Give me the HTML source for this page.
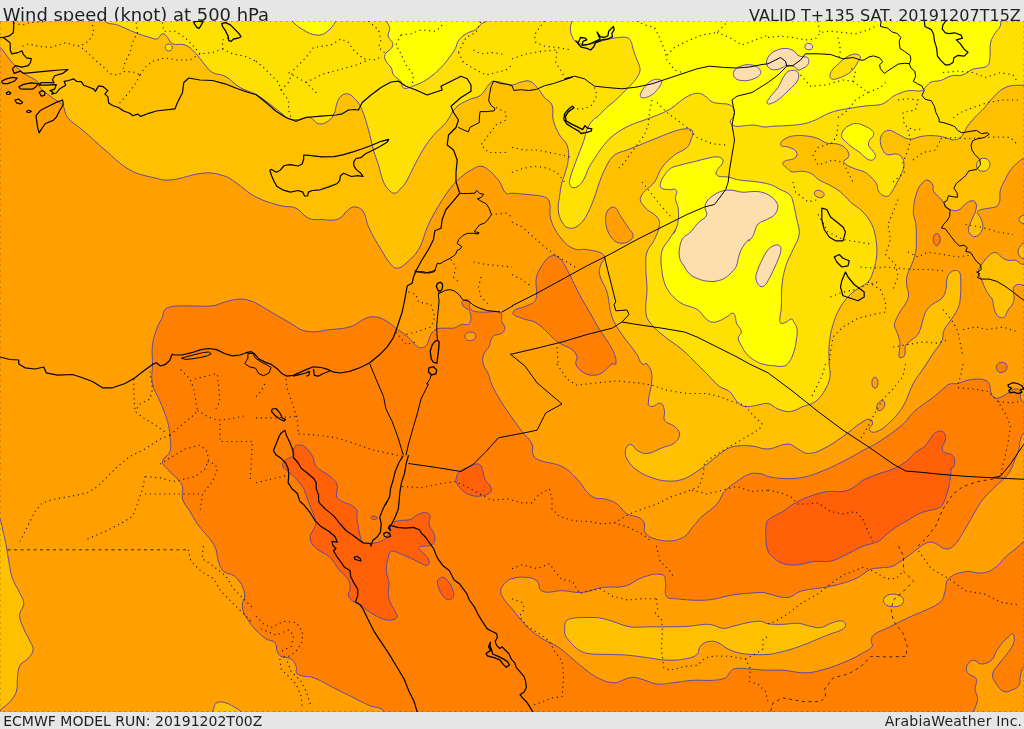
<!DOCTYPE html>
<html lang="en"><head><meta charset="utf-8"><title>Wind speed (knot) at 500 hPa</title>
<style>
html,body{margin:0;padding:0;background:#e6e6e6;}
body{width:1024px;height:729px;position:relative;overflow:hidden;font-family:"DejaVu Sans","Liberation Sans",sans-serif;color:#1f1f1f;}
.t{position:absolute;white-space:nowrap;line-height:1;}
#tl{left:2.7px;top:6.3px;font-size:17.97px;}
#tr{right:3.2px;top:7.6px;font-size:16.03px;}
#bl{left:3.2px;top:713.5px;font-size:14.03px;}
#br{right:1.8px;top:713.5px;font-size:14.03px;letter-spacing:0.19px;}
#map{position:absolute;left:0;top:21px;width:1024px;height:691px;overflow:hidden;background:#ffa000;}
svg{display:block;}
</style></head><body>
<div class="t" id="tl">Wind speed (knot) at 500 hPa</div>
<div class="t" id="tr">VALID T+135 SAT. 20191207T15Z</div>
<div id="map"><svg width="1024" height="691" viewBox="0 21 1024 691">
<rect x="0" y="21" width="1024" height="691" fill="#ffa000"/>
<path d="M-6.0,10.0C-20.8,10.5 -8.0,34.5 -6.0,47.0C-5.6,49.4 -1.9,46.0 0.0,47.5C5.0,51.5 5.7,55.2 10.0,60.0C14.7,65.3 16.9,68.1 22.5,72.5C28.5,77.2 33.0,77.5 38.8,82.5C40.3,83.8 38.6,86.0 40.0,87.5C44.8,92.7 48.1,94.4 53.8,98.8C57.1,101.4 60.0,101.5 62.5,105.0C65.7,109.3 64.1,113.3 67.5,117.5C72.4,123.6 76.6,124.9 82.5,130.0C91.6,137.9 95.8,142.2 105.0,150.0C114.8,158.2 118.8,163.7 130.0,170.0C139.2,175.1 144.8,175.5 155.0,178.0C160.9,179.5 164.0,180.6 170.0,180.0C184.2,178.6 190.8,174.0 205.0,173.0C213.1,172.4 217.2,173.9 225.0,176.2C229.4,177.6 231.2,179.4 235.0,182.0C243.6,187.7 246.8,192.3 256.0,197.0C265.4,201.9 270.8,202.9 281.0,205.8C286.9,207.4 290.5,205.7 296.0,208.2C301.8,210.9 302.7,215.6 308.5,218.2C313.1,220.3 316.0,219.4 321.0,219.5C328.0,219.7 331.9,221.4 338.5,219.0C343.7,217.1 343.9,212.6 348.5,209.5C351.1,207.7 352.9,206.5 356.0,207.0C359.6,207.6 361.6,208.9 363.5,212.0C366.9,217.4 365.8,221.3 368.5,227.0C372.9,236.3 375.7,240.7 381.0,249.5C384.7,255.7 386.3,259.1 391.0,264.5C392.9,266.7 394.3,268.5 397.2,268.2C401.3,267.9 403.0,265.9 406.0,263.2C411.6,258.3 414.8,255.9 418.5,249.5C423.9,240.2 423.9,234.2 428.5,224.5C432.9,215.2 435.5,210.7 441.0,202.0C445.6,194.7 448.0,191.1 453.5,184.5C457.0,180.3 459.2,178.4 463.5,175.0C467.2,172.1 469.3,170.9 473.5,168.8C476.3,167.3 477.8,166.0 481.0,166.2C484.3,166.5 485.8,168.0 488.5,170.0C491.9,172.5 493.1,174.4 496.0,177.5C497.6,179.2 498.5,180.0 499.8,182.0C502.5,186.3 502.2,189.8 506.0,193.2C507.8,194.9 509.6,193.1 512.0,193.2C518.0,193.6 521.0,193.8 527.0,194.5C534.0,195.3 537.8,194.8 544.5,197.0C547.2,197.9 548.7,199.3 549.5,202.0C551.4,208.8 548.5,212.8 550.8,219.5C553.7,228.2 556.2,232.4 562.0,239.5C565.9,244.4 568.7,246.7 574.5,249.0C579.1,250.9 582.1,248.4 587.0,249.5C594.3,251.1 599.9,250.8 604.5,255.8C607.1,258.6 601.7,260.8 600.8,264.5C599.7,268.4 598.6,270.6 599.5,274.5C601.2,281.9 604.9,284.7 607.0,292.0C609.9,301.8 608.6,307.4 612.0,317.0C614.7,324.6 617.5,327.8 622.0,334.5C627.5,342.8 631.4,346.2 637.0,354.5C639.4,358.1 638.9,361.0 642.0,364.0C643.4,365.4 645.8,362.4 647.0,364.0C650.3,368.2 651.8,371.1 652.0,376.5C652.3,387.6 648.2,394.0 648.2,404.0C648.2,405.8 650.2,406.6 652.0,406.5C655.7,406.4 657.3,402.1 660.8,403.5C664.0,404.8 663.7,408.1 664.5,411.5C665.3,414.9 662.6,417.3 664.5,420.2C667.1,424.2 671.0,423.3 674.5,426.5C677.2,428.9 679.5,430.4 679.5,434.0C679.5,438.0 677.7,440.3 674.5,442.8C670.3,446.1 667.0,445.8 662.0,447.8C656.0,450.1 653.4,452.9 647.0,453.5C642.8,453.9 640.7,452.3 637.0,450.2C634.0,448.6 634.1,444.9 630.8,444.5C628.1,444.2 626.4,446.4 625.8,449.0C624.7,452.9 625.1,455.4 627.0,459.0C629.8,464.3 632.2,466.6 637.0,470.2C642.4,474.3 645.7,475.5 652.0,477.8C657.8,479.8 660.9,480.6 667.0,481.0C673.0,481.4 676.3,481.3 682.0,479.5C688.5,477.4 691.3,475.2 697.0,471.5C703.3,467.4 706.0,464.8 712.0,460.2C718.0,455.8 720.5,452.7 727.0,449.0C730.6,446.9 732.9,446.5 737.0,446.0C743.0,445.3 746.0,445.4 752.0,446.0C758.5,446.6 761.5,449.4 768.0,449.0C776.2,448.5 779.8,444.0 788.0,444.0C792.5,444.0 794.0,447.1 798.0,449.0C802.0,450.9 803.6,453.5 808.0,453.5C814.3,453.5 817.4,451.7 823.0,449.0C831.5,444.9 835.2,441.8 843.0,436.5C851.2,430.8 854.5,426.8 863.0,421.5C865.6,419.9 867.5,418.7 870.5,419.5C872.4,420.0 872.7,422.0 872.5,424.0C872.2,426.5 868.4,427.1 869.2,429.5C870.2,432.0 872.9,432.8 875.5,432.0C881.2,430.3 883.6,428.0 888.0,424.0C894.8,417.7 898.1,414.3 903.0,406.5C908.2,398.1 908.4,392.7 913.0,384.0C916.4,377.6 919.0,375.0 923.0,369.0C927.0,363.0 928.9,360.0 932.8,354.0C936.5,348.4 939.3,346.2 942.2,340.1C943.8,336.7 942.3,334.2 943.8,330.7C945.5,326.5 947.6,325.1 950.0,321.3C953.2,316.4 955.4,314.2 957.8,308.8C959.5,305.3 959.8,303.3 960.2,299.4C961.0,291.3 960.9,287.2 960.7,279.1C960.6,276.2 960.9,274.5 959.4,272.1C958.5,270.6 957.2,270.4 955.5,270.5C953.1,270.7 951.7,271.2 950.0,272.8C948.0,274.8 947.6,276.4 946.9,279.1C946.0,282.8 947.0,284.8 946.1,288.5C945.1,292.4 944.8,294.8 942.2,297.9C939.3,301.3 936.3,301.3 932.8,304.1C930.1,306.3 928.5,307.4 926.6,310.4C924.7,313.2 924.5,315.0 923.4,318.2C922.0,322.5 921.9,324.9 920.3,329.1C919.3,331.8 919.0,333.3 917.2,335.4C914.5,338.4 912.3,338.9 909.4,341.7C907.6,343.3 906.3,344.1 905.4,346.4C904.4,349.2 905.7,351.0 905.0,354.0C904.7,355.4 904.3,356.3 903.0,357.0C901.7,357.7 899.6,358.5 899.2,357.0C898.2,352.4 900.4,348.7 900.0,343.2C899.7,339.4 898.8,337.5 897.6,333.8C896.6,330.6 895.1,329.3 894.5,326.0C894.1,324.2 894.6,323.1 895.3,321.3C896.8,317.4 897.9,315.6 900.0,311.9C902.2,308.0 904.2,306.6 906.2,302.6C907.7,299.6 908.4,298.0 908.6,294.7C908.7,291.6 907.3,290.1 907.0,286.9C906.6,282.6 906.2,280.3 907.0,276.0C907.8,272.0 909.5,270.4 910.9,266.6C913.0,261.0 914.4,258.3 915.6,252.5C916.6,247.6 916.4,245.0 916.4,240.0C916.4,233.0 916.4,229.5 915.6,222.6C915.1,218.1 913.0,216.1 913.3,211.6C913.7,203.3 914.5,199.1 917.2,191.3C918.6,187.0 920.2,185.1 923.4,181.9C924.8,180.5 926.2,179.7 928.1,180.3C930.6,181.2 931.6,182.7 932.8,185.0C933.9,187.3 932.3,189.1 933.6,191.3C936.2,195.6 938.9,196.8 942.2,200.7C944.8,203.7 945.1,206.4 948.5,208.5C951.7,210.5 954.1,211.4 957.8,210.4C961.8,209.3 962.3,206.1 965.7,203.8C968.0,202.2 969.1,200.9 971.9,200.7C973.7,200.5 975.1,201.3 975.8,203.0C976.9,205.6 976.5,207.3 975.8,210.0C974.9,214.0 973.4,215.6 971.9,219.4C970.5,223.2 968.9,224.8 968.5,228.8C968.2,231.1 968.9,232.5 970.4,234.3C971.7,235.9 973.0,237.0 975.0,236.6C977.7,236.2 979.0,234.9 980.5,232.7C982.2,230.3 982.9,228.7 982.9,225.7C982.9,222.4 981.8,220.9 980.5,217.9C979.6,215.5 977.6,214.9 977.4,212.4C977.3,211.1 978.5,210.5 979.7,210.0C983.3,208.8 985.4,209.0 989.1,208.2C992.3,207.5 994.3,208.0 996.9,206.1C999.0,204.7 999.3,203.1 999.8,200.7C1000.5,197.0 999.2,194.9 1000.1,191.3C1001.2,186.7 1002.6,184.6 1004.8,180.3C1007.0,175.8 1008.0,173.4 1011.0,169.4C1013.7,165.8 1015.6,164.6 1018.8,161.6C1023.2,157.6 1029.6,157.9 1030.0,152.0C1033.7,101.5 1086.3,17.7 1030.0,10.0C684.7,-37.3 339.3,-2.3 -6.0,10.0Z" fill="#ffc000" stroke="#5844aa" stroke-width="0.95"/>
<path d="M981.3,265.0C983.9,260.9 985.5,258.9 989.1,255.6C991.2,253.8 992.6,252.2 995.4,252.5C998.5,252.9 999.0,255.5 1001.6,257.2C1004.0,258.7 1005.2,259.7 1007.9,260.3C1010.9,261.0 1012.7,259.6 1015.7,260.3C1017.9,260.9 1018.4,262.5 1020.4,263.5C1024.0,265.3 1028.1,263.7 1029.8,267.4C1032.6,273.7 1033.8,279.0 1029.8,284.6C1026.8,288.6 1022.1,283.4 1017.3,284.6C1015.1,285.1 1013.9,286.3 1013.4,288.5C1012.5,292.2 1014.3,294.1 1014.1,297.9C1014.0,300.4 1013.7,301.8 1012.6,304.1C1011.2,306.9 1009.5,307.7 1007.9,310.4C1006.4,312.8 1006.6,314.5 1004.8,316.6C1003.9,317.6 1002.9,318.0 1001.6,317.7C999.5,317.3 998.2,316.8 996.9,315.1C994.9,312.4 994.8,310.5 993.8,307.3C992.9,304.2 993.5,302.3 992.3,299.4C991.0,296.6 989.2,295.8 987.6,293.2C986.1,290.8 985.6,289.5 984.4,286.9C983.1,283.8 982.7,282.2 981.3,279.1C980.2,276.5 978.2,275.6 978.2,272.8C978.2,269.5 979.5,267.9 981.3,265.0Z" fill="#ffc000" stroke="#5844aa" stroke-width="0.95"/>
<path d="M1018.1,251.7C1018.1,249.3 1019.0,248.2 1020.4,246.3C1021.5,244.7 1022.2,243.7 1024.0,243.1C1026.2,242.4 1029.0,241.0 1029.8,243.1C1031.7,248.3 1031.7,253.6 1029.8,258.8C1029.0,260.9 1026.3,259.1 1024.0,258.8C1022.5,258.5 1021.4,258.4 1020.4,257.2C1018.9,255.4 1018.1,254.1 1018.1,251.7Z" fill="#ffc000" stroke="#5844aa" stroke-width="0.95"/>
<path d="M105.0,10.0C100.6,10.1 102.2,17.6 105.0,21.0C108.4,25.0 112.6,23.1 117.5,25.0C124.6,27.7 127.9,29.8 135.0,32.5C140.9,34.8 143.9,35.8 150.0,37.5C152.9,38.3 154.6,39.6 157.5,38.8C160.2,37.9 159.7,34.1 162.5,33.8C165.0,33.4 165.7,35.7 167.5,37.5C169.8,39.8 169.6,42.5 172.5,43.8C177.1,45.7 180.3,43.2 185.0,45.0C189.7,46.8 191.5,49.0 195.0,52.5C199.5,57.0 200.8,60.2 205.0,65.0C207.8,68.2 208.8,70.4 212.5,72.5C217.0,75.1 220.4,73.8 225.0,76.2C231.6,79.8 233.5,83.7 240.0,87.5C246.0,91.0 249.9,91.1 256.0,94.5C262.4,98.1 265.1,100.6 271.0,105.0C276.1,108.8 278.5,111.0 283.5,115.0C285.5,116.5 286.1,118.0 288.5,118.8C292.3,119.9 294.5,119.8 298.5,119.5C302.6,119.1 304.4,116.9 308.5,117.0C310.8,117.1 311.6,118.7 313.5,120.0C315.6,121.4 316.0,123.3 318.5,123.8C321.5,124.3 323.4,124.0 326.0,122.5C329.7,120.4 331.4,118.7 333.5,115.0C336.1,110.5 335.3,107.3 337.2,102.5C338.3,99.8 338.8,98.2 341.0,96.2C343.0,94.5 344.6,93.5 347.2,93.8C350.2,94.0 351.4,95.4 353.5,97.5C357.0,101.0 358.9,103.0 361.0,107.5C365.0,116.1 365.8,120.9 368.5,130.0C370.8,137.9 371.2,142.1 373.5,150.0C375.2,156.1 376.6,159.0 378.5,165.0C380.6,171.8 380.8,175.4 383.5,182.0C384.9,185.3 386.0,187.0 388.5,189.5C390.6,191.6 391.8,193.5 394.8,193.2C397.9,192.9 398.7,190.5 401.0,188.2C403.3,186.0 404.4,184.8 406.0,182.0C410.4,174.4 411.8,170.2 416.0,162.5C419.8,155.4 421.5,151.7 426.0,145.0C429.6,139.7 431.7,137.3 436.0,132.5C439.8,128.3 442.5,126.9 446.0,122.5C450.5,116.9 450.9,112.6 456.0,107.5C460.1,103.4 463.3,102.6 468.5,100.0C473.3,97.6 476.7,98.2 481.0,95.0C485.0,92.0 485.1,88.7 488.5,85.0C490.2,83.2 491.0,81.2 493.5,81.2C501.1,81.2 504.5,84.6 512.0,85.0C515.2,85.2 516.4,83.2 519.5,82.5C523.4,81.7 525.6,80.1 529.5,81.2C533.3,82.3 534.4,84.6 537.0,87.5C540.4,91.2 541.2,93.7 544.5,97.5C547.3,100.7 550.5,101.0 552.0,105.0C554.2,110.6 551.8,114.2 553.2,120.0C554.8,126.3 556.4,129.3 559.5,135.0C561.9,139.4 565.3,140.3 567.0,145.0C569.0,150.7 568.8,154.0 568.2,160.0C567.7,166.2 566.2,169.1 564.5,175.0C563.7,177.9 562.7,179.1 562.0,182.0C560.7,187.9 560.3,191.0 559.5,197.0C558.8,202.0 557.8,204.5 558.2,209.5C558.8,214.7 559.3,217.5 562.0,222.0C564.0,225.3 565.6,227.7 569.5,228.2C573.7,228.9 576.1,227.1 579.5,224.5C583.4,221.4 584.6,218.9 587.0,214.5C590.6,207.8 591.8,204.1 594.5,197.0C596.8,191.1 597.2,187.9 599.5,182.0C602.2,175.1 603.4,171.5 607.0,165.0C609.4,160.6 610.5,158.0 614.5,155.0C618.8,151.8 622.0,152.0 627.0,150.0C637.0,146.0 642.0,144.0 652.0,140.0C661.0,136.5 665.3,134.2 674.5,131.2C679.4,129.7 681.9,128.8 687.0,128.8C689.4,128.8 691.7,129.0 692.5,131.2C693.6,134.6 691.9,136.6 690.8,140.0C689.7,143.2 689.5,145.2 687.0,147.5C682.7,151.5 679.1,151.4 674.5,155.0C669.0,159.4 666.2,161.8 662.0,167.5C658.1,172.7 658.3,176.7 654.5,182.0C649.7,188.6 643.8,189.4 640.8,197.0C639.2,201.0 641.8,203.7 644.5,207.0C648.5,212.0 652.8,212.1 657.0,217.0C659.1,219.4 659.8,221.4 659.5,224.5C658.8,230.8 657.1,233.7 654.5,239.5C652.1,244.8 648.8,246.4 647.0,252.0C645.2,257.7 645.8,261.0 645.8,267.0C645.8,276.0 647.0,280.5 647.0,289.5C647.0,298.5 645.1,303.0 645.8,312.0C646.1,316.3 647.0,318.5 649.5,322.0C653.6,327.7 656.6,329.9 662.0,334.5C669.6,341.0 674.4,343.1 682.0,349.5C688.4,354.9 691.0,358.2 697.0,364.0C702.0,369.0 704.5,371.5 709.5,376.5C713.5,380.5 715.0,383.1 719.5,386.5C723.1,389.2 726.1,388.6 729.5,391.5C733.3,394.8 733.5,398.0 737.0,401.5C739.5,404.0 741.0,405.8 744.5,406.5C749.4,407.4 752.0,405.9 757.0,405.2C761.4,404.7 763.6,402.7 768.0,403.5C772.5,404.3 773.7,407.5 778.0,409.0C782.8,410.7 785.4,412.0 790.5,411.5C795.9,411.0 798.0,408.5 803.0,406.5C808.0,404.5 811.2,404.8 815.5,401.5C820.6,397.6 822.3,394.5 825.5,389.0C828.2,384.4 829.2,381.8 830.0,376.5C830.7,371.5 829.4,369.0 829.2,364.0C829.1,356.2 828.5,352.3 829.2,344.5C830.0,336.4 830.7,332.3 833.0,324.5C835.2,317.2 836.7,313.6 840.5,307.0C843.7,301.5 846.0,299.0 850.5,294.5C854.0,291.0 856.4,289.9 860.5,287.0C863.4,284.9 865.7,284.8 868.0,282.0C870.9,278.6 871.6,276.3 873.0,272.0C875.2,265.2 876.2,261.6 876.8,254.5C877.2,247.5 876.7,243.9 875.5,237.0C874.6,231.9 874.1,229.2 871.8,224.5C869.0,219.0 867.2,216.4 863.0,212.0C858.6,207.3 855.3,206.3 850.5,202.0C846.3,198.2 844.9,195.6 840.5,192.0C836.6,188.8 834.2,187.7 829.8,185.2C825.6,182.8 823.0,182.4 818.9,179.8C815.5,177.6 814.7,175.3 811.1,173.5C807.6,171.8 805.5,171.5 801.7,171.2C797.9,170.9 796.0,172.6 792.3,171.9C790.1,171.6 789.3,170.3 787.6,168.8C785.6,167.1 784.2,166.4 782.9,164.1C782.4,163.3 782.9,162.4 783.7,161.8C785.0,160.7 786.0,160.7 787.6,160.2C790.1,159.5 791.6,160.0 793.9,158.7C795.6,157.6 796.8,156.7 797.0,154.7C797.2,152.7 796.3,151.4 794.7,150.0C792.3,148.1 790.5,148.0 787.6,146.9C784.8,145.8 781.1,147.4 780.6,144.6C780.1,141.7 783.2,140.0 786.0,138.3C789.4,136.3 791.6,136.1 795.4,135.7C799.8,135.2 802.0,135.4 806.4,136.0C810.8,136.5 813.1,136.9 817.3,138.3C821.3,139.7 822.7,141.8 826.7,143.0C830.3,144.1 832.4,143.0 836.1,143.8C839.4,144.5 841.2,144.9 843.9,146.9C846.4,148.8 847.6,150.2 848.6,153.2C849.2,155.0 848.8,156.2 847.8,157.9C846.8,159.6 844.6,159.1 843.9,161.0C843.4,162.3 844.3,163.3 845.5,164.1C848.9,166.6 851.0,167.2 854.9,168.8C858.5,170.3 860.8,170.1 864.3,171.9C867.8,173.9 869.2,175.4 872.1,178.2C874.3,180.4 875.4,181.7 876.8,184.5C877.9,186.8 877.0,188.5 878.3,190.7C879.6,193.0 880.7,194.1 883.0,195.4C884.7,196.4 885.8,196.6 887.7,196.2C889.2,195.9 889.7,195.1 890.6,193.8C893.4,189.7 894.5,187.3 896.8,182.9C898.8,179.2 899.9,177.4 901.5,173.5C902.8,170.5 903.7,169.0 903.9,165.7C904.0,162.5 904.0,160.6 902.3,157.9C900.9,155.6 899.5,154.5 896.8,154.0C893.2,153.2 891.1,155.7 887.5,154.7C884.9,154.0 884.1,152.4 882.8,150.0C881.2,147.2 880.8,145.5 880.4,142.2C880.1,139.7 880.2,138.3 881.2,136.0C882.2,133.7 883.0,132.5 885.1,131.3C887.0,130.2 888.4,130.0 890.6,130.5C894.0,131.3 895.2,133.0 898.4,134.4C902.7,136.4 904.6,138.7 909.4,139.1C914.5,139.5 916.8,137.0 921.9,136.3C926.8,135.6 929.4,135.4 934.4,135.7C938.8,135.9 941.0,136.6 945.3,137.5C948.5,138.3 949.9,139.7 953.1,139.9C955.7,140.0 957.2,139.7 959.4,138.3C961.8,136.8 962.5,135.2 964.1,132.8C965.6,130.5 965.6,128.9 967.2,126.6C970.6,121.9 972.7,119.9 976.6,115.6C979.6,112.4 981.5,111.1 984.4,107.8C987.1,104.8 987.8,102.8 990.7,100.0C996.3,94.6 998.4,90.7 1005.5,87.5C1012.3,84.4 1016.6,85.8 1024.0,85.0C1026.4,84.8 1029.8,87.4 1030.0,85.0C1032.0,60.0 1059.9,12.4 1030.0,10.0C721.7,-15.0 413.3,6.3 105.0,10.0Z" fill="#ffe000" stroke="#5844aa" stroke-width="0.95"/>
<path d="M976.6,164.9C976.8,162.8 977.4,161.6 979.0,160.2C980.4,158.8 981.6,158.3 983.6,158.3C985.7,158.3 986.9,158.8 988.3,160.2C989.7,161.6 990.1,162.9 989.9,164.9C989.7,167.0 989.1,168.2 987.6,169.6C986.1,170.9 984.8,171.2 982.9,171.2C980.9,171.2 979.6,171.0 978.2,169.6C976.8,168.2 976.4,166.9 976.6,164.9Z" fill="#ffe000" stroke="#5844aa" stroke-width="0.95"/>
<path d="M291.0,15.0C288.6,15.3 290.7,19.1 292.2,21.0C295.9,25.4 298.5,27.1 303.5,30.0C308.1,32.7 310.6,34.4 316.0,35.0C320.1,35.5 322.6,34.9 326.0,32.5C331.0,29.0 332.7,26.1 336.0,21.0C337.3,18.9 339.7,15.3 337.2,15.0C322.2,13.0 306.0,13.0 291.0,15.0Z" fill="#ffff00" stroke="#5844aa" stroke-width="0.95"/>
<path d="M385.8,14.0C383.0,14.2 385.8,18.3 386.6,21.0C387.4,24.0 389.4,25.0 389.7,28.1C390.1,31.2 387.6,32.8 388.2,35.9C388.9,40.0 393.5,41.1 392.8,45.3C392.0,50.1 387.0,50.2 385.0,54.7C384.0,57.0 384.7,58.6 385.8,60.9C387.3,64.1 389.5,64.8 391.3,68.0C392.7,70.6 391.9,72.6 393.6,75.0C395.8,78.1 398.4,78.2 400.7,81.3C402.3,83.4 401.2,85.5 403.0,87.5C404.1,88.7 405.3,88.5 406.9,88.3C409.6,87.9 410.7,86.9 413.2,85.9C417.0,84.4 419.0,84.0 422.6,82.0C426.5,79.9 428.4,78.6 431.9,75.8C435.9,72.6 437.8,70.9 441.3,67.2C444.7,63.6 446.2,61.7 449.1,57.8C451.9,54.2 453.2,52.4 455.4,48.4C457.0,45.5 456.5,43.3 458.5,40.6C461.0,37.2 462.8,35.8 466.4,33.6C469.8,31.4 472.3,31.9 475.7,29.6C478.7,27.7 479.2,25.6 482.0,23.4C483.6,22.1 485.6,22.9 486.7,21.0C488.1,18.6 490.3,14.2 487.5,14.0C453.8,11.7 419.4,11.7 385.8,14.0Z" fill="#ffff00" stroke="#5844aa" stroke-width="0.95"/>
<path d="M572.0,10.0C567.6,10.1 572.3,16.6 571.9,21.0C571.7,23.9 570.4,25.2 570.4,28.1C570.4,31.3 570.6,33.0 571.9,35.9C573.2,38.8 573.9,40.6 576.6,42.2C580.6,44.3 583.1,44.6 587.6,44.5C592.7,44.3 595.1,42.6 600.1,41.4C603.9,40.4 605.7,39.8 609.5,39.0C613.2,38.2 615.1,37.8 618.9,37.5C622.0,37.2 623.7,36.7 626.7,37.5C628.6,38.0 629.6,38.8 630.6,40.6C632.2,43.4 632.0,45.3 632.9,48.4C634.1,52.2 634.8,54.1 636.1,57.8C637.6,62.2 639.6,64.1 640.0,68.7C640.3,72.0 639.2,73.7 637.6,76.6C635.7,80.1 634.1,81.4 631.4,84.4C628.4,87.7 626.7,89.1 623.6,92.2C620.4,95.3 619.0,97.0 615.7,100.0C612.1,103.3 610.0,104.5 606.4,107.8C602.4,111.4 600.9,113.7 597.0,117.2C595.8,118.3 594.6,118.1 593.5,119.4C590.6,122.8 589.1,124.7 587.3,128.8C585.3,132.9 585.6,135.4 584.1,139.7C582.4,144.8 581.3,147.2 579.4,152.2C577.6,157.2 576.5,159.7 574.7,164.7C572.8,170.3 571.4,173.0 570.0,178.8C569.5,181.3 569.0,182.8 570.0,185.1C570.8,186.8 572.1,187.7 574.0,187.7C576.4,187.7 577.6,186.7 579.4,185.1C581.8,183.0 582.6,181.6 584.1,178.8C586.4,174.6 586.6,172.1 588.8,167.9C591.6,162.7 593.4,160.3 596.6,155.4C599.6,150.9 601.0,148.5 604.5,144.4C607.9,140.4 609.6,138.2 613.8,135.0C619.7,130.6 622.9,128.8 629.5,125.6C636.7,122.2 640.8,121.6 648.3,118.6C656.4,115.3 660.8,114.2 668.6,110.0C673.4,107.5 675.0,105.1 679.4,101.9C683.1,99.3 684.7,97.6 688.8,95.7C692.3,94.1 694.3,93.3 698.2,93.3C700.9,93.3 702.2,94.3 704.5,95.7C707.9,97.8 708.7,100.2 712.3,101.9C715.1,103.4 716.9,103.0 720.1,103.5C723.8,104.1 726.0,103.2 729.5,104.8C732.0,105.9 733.3,107.2 734.2,109.8C735.0,112.5 734.2,114.1 733.4,116.8C732.6,119.2 729.7,119.8 730.3,122.3C730.9,124.9 733.1,125.6 735.7,126.2C739.4,127.0 741.4,125.9 745.1,125.7C748.9,125.5 750.8,124.8 754.5,125.1C758.3,125.3 760.1,126.7 763.9,127.0C767.7,127.2 769.5,126.4 773.3,126.2C778.7,125.9 781.5,126.0 786.9,125.6C793.2,125.1 796.4,125.2 802.6,124.0C807.7,123.0 810.2,122.1 815.1,120.1C820.3,118.0 822.4,116.0 827.6,113.8C831.2,112.3 833.1,111.7 837.0,110.7C841.9,109.5 844.5,109.2 849.5,108.4C855.7,107.3 858.8,106.8 865.1,106.0C871.4,105.2 874.6,105.8 880.8,104.5C883.5,103.9 884.7,102.8 887.0,101.3C889.1,100.0 889.7,98.8 891.7,97.4C894.3,95.7 895.6,94.9 898.4,93.8C902.7,92.1 904.8,91.2 909.4,90.6C914.3,90.0 917.0,92.0 921.9,90.6C924.4,89.9 924.6,87.7 926.6,85.9C928.4,84.3 929.0,82.9 931.3,82.0C934.8,80.7 937.0,81.6 940.6,80.5C945.2,79.1 947.0,76.9 951.6,75.8C955.8,74.7 958.3,76.3 962.5,75.0C966.7,73.7 967.9,71.2 971.9,69.5C974.9,68.3 976.6,68.7 979.7,68.0C982.9,67.2 985.2,67.9 987.6,65.6C989.9,63.3 989.5,61.0 989.9,57.8C990.7,51.6 989.3,48.3 990.7,42.2C991.6,38.1 993.2,36.4 995.4,32.8C997.0,30.1 998.7,29.3 1000.1,26.5C1001.0,24.5 1000.7,23.2 1000.9,21.0C1001.1,16.6 1005.4,10.1 1001.0,10.0C858.0,6.3 715.0,6.3 572.0,10.0Z" fill="#ffff00" stroke="#5844aa" stroke-width="0.95"/>
<path d="M660.5,183.2C661.3,179.8 662.4,178.2 664.4,175.4C666.5,172.2 667.5,170.4 670.7,168.3C674.0,166.2 676.2,166.3 680.0,165.2C686.3,163.4 689.4,162.8 695.7,161.3C700.7,160.0 703.2,159.2 708.2,158.2C711.3,157.5 712.9,156.7 716.0,156.9C718.6,157.0 720.5,157.0 722.3,158.9C723.6,160.3 723.0,161.9 722.3,163.6C721.3,165.9 719.7,166.3 718.4,168.3C717.2,170.1 716.0,170.9 716.0,173.0C716.0,174.6 716.9,175.6 718.4,176.1C721.6,177.3 723.6,176.3 727.0,176.9C732.0,177.9 734.4,179.2 739.5,180.0C745.7,181.1 748.9,180.7 755.1,181.6C761.4,182.6 764.7,182.8 770.8,184.7C774.8,186.0 776.4,187.5 780.1,189.4C784.1,191.5 786.8,191.8 790.0,194.9C792.2,197.1 792.2,199.0 793.0,202.0C794.9,208.9 795.4,212.5 796.8,219.5C797.9,225.5 800.0,228.5 799.2,234.5C798.4,240.9 795.5,243.5 793.0,249.5C790.0,256.5 787.7,259.7 785.5,267.0C783.2,274.8 782.6,278.9 781.8,287.0C780.9,295.4 781.9,299.7 781.3,308.2C781.1,312.6 780.0,314.7 779.8,319.1C779.7,320.7 779.1,322.3 780.5,323.0C782.5,324.0 783.9,323.0 786.0,322.2C788.4,321.4 789.0,319.1 791.5,319.1C793.1,319.1 793.1,320.9 793.8,322.2C795.3,324.6 796.6,325.7 797.0,328.5C797.6,333.5 796.9,336.0 796.2,341.0C795.6,345.4 795.3,347.7 793.8,351.9C792.4,356.2 791.6,358.4 789.1,362.1C787.8,364.1 786.8,365.5 784.5,366.0C780.2,367.0 777.9,366.1 773.5,365.7C769.1,365.3 766.8,365.3 762.6,364.1C759.2,363.2 757.7,362.4 754.7,360.5C751.4,358.4 749.6,357.3 746.9,354.3C744.2,351.3 743.3,349.3 741.4,345.7C739.9,342.7 738.3,341.2 738.3,337.9C738.3,335.1 741.8,334.4 741.4,331.6C741.0,328.0 738.2,327.2 736.8,323.8C735.6,321.1 736.2,319.5 735.2,316.8C734.6,315.1 734.6,313.3 732.8,313.2C730.7,312.9 730.0,314.9 728.2,316.0C725.0,317.8 723.7,319.0 720.3,320.4C717.3,321.5 715.7,322.5 712.5,322.2C709.7,322.0 708.6,320.7 706.3,319.1C704.9,318.2 704.6,317.3 703.5,316.0C701.6,313.8 701.1,312.3 698.8,310.5C696.6,308.8 695.2,308.5 692.6,307.4C688.9,305.9 686.7,306.1 683.2,304.3C679.8,302.6 678.1,301.4 675.4,298.8C671.8,295.5 670.1,293.6 667.5,289.4C665.4,286.0 664.7,284.0 663.6,280.0C662.4,275.8 662.3,273.5 661.7,269.1C661.2,264.7 660.7,262.5 661.0,258.2C661.2,254.3 661.3,252.3 662.8,248.8C664.6,244.6 666.6,243.1 669.1,239.4C671.6,235.6 673.8,232.1 675.4,230.0C676.2,228.9 673.3,234.6 673.8,233.2C674.6,231.2 677.0,227.8 677.7,223.8C678.8,217.7 678.8,214.4 678.2,208.2C677.8,204.3 675.8,202.7 675.4,198.8C675.0,195.4 678.1,193.1 676.1,190.2C674.5,187.9 671.9,190.2 669.1,189.7C665.9,189.2 663.8,189.8 661.3,187.9C659.8,186.7 660.0,185.0 660.5,183.2Z" fill="#ffff00" stroke="#5844aa" stroke-width="0.95"/>
<path d="M841.6,135.2C842.0,132.8 842.4,131.5 843.9,129.7C845.9,127.3 847.4,126.4 850.2,125.0C852.5,123.9 853.9,123.3 856.4,123.5C859.7,123.6 861.3,124.5 864.3,125.8C867.6,127.3 869.5,127.9 872.1,130.5C873.5,131.9 874.1,133.3 873.6,135.2C873.0,137.6 870.8,137.7 869.7,139.9C868.7,141.9 868.1,143.2 868.6,145.4C869.2,147.6 870.7,148.1 872.1,150.0C873.4,151.9 874.6,152.6 875.2,154.7C875.6,156.3 875.5,157.4 874.4,158.7C873.3,159.9 872.2,160.4 870.5,160.2C868.4,160.0 867.5,159.1 865.8,157.9C863.1,155.9 862.2,154.4 859.6,152.4C856.5,150.1 854.8,149.3 851.7,146.9C849.1,144.9 847.9,143.7 845.5,141.4C844.2,140.3 843.3,139.8 842.4,138.3C841.7,137.2 841.3,136.5 841.6,135.2Z" fill="#ffff00" stroke="#5844aa" stroke-width="0.95"/>
<path d="M829.9,76.3C829.9,73.6 830.8,72.3 832.3,70.0C834.3,67.1 836.0,66.2 838.5,63.8C841.0,61.5 842.0,60.2 844.8,58.3C847.7,56.4 849.2,55.3 852.6,54.4C854.7,53.8 856.0,53.9 858.1,54.7C859.4,55.3 860.6,56.1 860.4,57.5C860.2,60.0 858.6,60.9 857.3,63.0C855.5,65.9 854.9,67.6 852.6,70.0C850.5,72.3 849.1,73.2 846.4,74.7C843.4,76.5 841.8,77.2 838.5,78.2C836.1,78.9 834.7,79.7 832.3,79.1C830.8,78.8 829.9,77.8 829.9,76.3Z" fill="#ffe000" stroke="#5844aa" stroke-width="0.95"/>
<path d="M706.6,215.2C707.8,212.6 705.1,211.1 705.1,208.2C705.1,205.6 705.3,204.1 706.6,201.9C708.5,198.9 710.0,197.7 712.9,195.7C716.3,193.3 718.2,192.2 722.3,191.0C725.9,189.9 727.9,190.0 731.7,190.2C736.1,190.5 738.2,192.0 742.6,192.2C747.0,192.5 749.2,191.4 753.6,191.5C757.3,191.5 759.3,191.5 762.9,192.6C766.3,193.5 767.9,194.5 770.8,196.5C773.3,198.3 774.6,199.3 776.2,201.9C777.5,203.9 778.1,205.2 777.8,207.4C777.4,210.5 776.7,212.1 774.7,214.5C772.5,217.0 770.6,217.5 767.6,219.1C764.0,221.2 761.4,221.1 758.3,223.8C756.1,225.7 756.2,227.5 755.1,230.1C754.3,231.9 754.5,233.1 753.6,234.8C752.0,237.5 750.4,239.5 748.9,241.0C748.4,241.5 749.3,238.9 748.9,239.4C746.8,241.4 744.6,243.8 742.6,247.2C740.5,250.7 740.0,252.7 738.7,256.6C737.5,260.3 737.9,262.4 736.4,266.0C735.1,268.8 733.8,269.9 731.7,272.2C729.4,274.7 728.2,276.0 725.4,277.7C722.5,279.5 720.9,280.1 717.6,280.8C713.9,281.6 711.9,281.7 708.2,281.3C703.7,280.8 701.5,280.2 697.3,278.5C693.9,277.1 692.1,276.3 689.4,273.8C686.7,271.2 686.0,269.2 684.0,266.0C682.1,263.0 680.5,261.6 679.7,258.2C678.8,253.9 679.0,251.5 679.7,247.2C680.4,243.3 680.9,241.1 683.2,237.8C684.9,235.3 687.2,235.4 689.4,233.2C693.5,229.2 694.8,226.4 698.8,222.3C701.7,219.2 704.9,219.1 706.6,215.2Z" fill="#ffdead" stroke="#5844aa" stroke-width="0.95"/>
<path d="M755.9,278.5C755.4,275.3 756.5,273.7 757.5,270.7C758.7,266.8 759.6,264.9 761.4,261.3C763.6,256.8 764.5,254.3 767.6,250.3C769.6,247.9 771.0,246.8 773.9,245.6C775.9,244.8 777.5,244.4 779.4,245.6C781.0,246.7 781.1,248.4 780.9,250.3C780.7,253.6 779.7,255.1 778.6,258.2C776.9,262.6 775.9,264.8 773.9,269.1C772.1,272.9 771.3,274.8 769.2,278.5C767.5,281.4 767.1,283.4 764.5,285.5C763.0,286.7 761.3,287.2 759.8,286.0C757.2,283.8 756.4,281.8 755.9,278.5Z" fill="#ffdead" stroke="#5844aa" stroke-width="0.95"/>
<path d="M640.3,95.7C640.3,93.7 640.9,92.7 641.9,91.0C643.4,88.3 644.5,87.0 646.6,84.7C648.2,82.9 649.1,81.9 651.3,80.8C653.6,79.7 655.0,79.3 657.5,79.3C659.2,79.3 660.6,79.4 661.4,80.8C662.2,82.2 661.3,83.3 660.7,84.7C659.7,86.8 659.0,87.7 657.5,89.4C655.8,91.5 655.0,92.6 652.8,94.1C650.6,95.8 649.3,96.4 646.6,97.3C644.8,97.8 643.7,98.0 641.9,97.6C640.9,97.3 640.3,96.7 640.3,95.7Z" fill="#ffdead" stroke="#5844aa" stroke-width="0.95"/>
<path d="M733.4,74.6C733.2,72.6 733.7,71.4 735.0,69.9C736.7,67.9 738.0,67.2 740.4,66.3C743.4,65.1 745.1,64.7 748.3,64.7C751.4,64.7 753.2,64.9 756.1,66.3C758.3,67.4 759.4,68.4 760.4,70.7C761.1,72.1 760.8,73.2 760.0,74.6C758.9,76.3 757.9,76.8 756.1,77.7C753.1,79.2 751.5,79.8 748.3,80.4C745.2,80.9 743.5,80.8 740.4,80.4C738.4,80.1 737.3,79.8 735.7,78.5C734.3,77.3 733.6,76.4 733.4,74.6Z" fill="#ffdead" stroke="#5844aa" stroke-width="0.95"/>
<path d="M766.6,63.0C766.4,60.0 767.2,58.3 768.9,56.0C771.1,53.1 772.7,52.0 776.0,50.5C779.5,48.9 781.5,48.5 785.4,48.5C788.6,48.5 790.3,49.0 793.2,50.5C795.5,51.8 795.7,53.7 797.9,55.2C799.5,56.3 800.6,56.3 802.6,56.8C804.4,57.2 805.7,56.4 807.3,57.5C808.6,58.5 808.8,59.8 808.8,61.4C808.8,63.1 808.4,64.1 807.3,65.4C805.8,67.0 804.6,67.5 802.6,68.5C800.8,69.4 799.8,70.4 797.9,70.0C796.1,69.7 796.4,67.6 794.7,66.9C791.8,65.7 790.1,65.2 786.9,65.4C784.8,65.5 784.2,66.9 782.2,67.7C779.8,68.7 778.6,69.6 776.0,69.7C773.4,69.9 771.8,70.0 769.7,68.5C767.7,67.0 766.7,65.5 766.6,63.0Z" fill="#ffdead" stroke="#5844aa" stroke-width="0.95"/>
<path d="M767.4,103.7C766.0,102.8 767.3,101.1 768.2,99.8C770.2,96.3 771.9,95.1 774.4,91.9C776.3,89.5 777.5,88.4 779.1,85.7C780.9,82.7 781.2,80.9 783.0,77.9C784.4,75.5 784.9,74.2 786.9,72.4C788.5,71.0 789.6,70.5 791.6,70.4C793.9,70.2 795.4,70.2 797.1,71.6C798.6,72.9 798.8,74.3 798.7,76.3C798.5,79.0 797.8,80.3 796.3,82.6C794.9,84.8 793.5,85.4 791.6,87.3C789.1,89.8 787.9,91.1 785.4,93.5C782.9,95.8 781.8,97.0 779.1,99.0C776.7,100.8 775.6,101.8 772.8,102.9C770.8,103.7 768.9,104.7 767.4,103.7Z" fill="#ffdead" stroke="#5844aa" stroke-width="0.95"/>
<path d="M804.9,46.6C805.0,45.4 805.5,44.7 806.5,43.9C807.2,43.3 807.9,43.3 808.8,43.5C810.0,43.6 810.7,43.9 811.6,44.7C812.4,45.4 812.8,45.9 812.7,46.9C812.6,48.0 812.1,48.6 811.2,49.2C810.4,49.8 809.8,49.8 808.8,49.7C807.7,49.6 806.9,49.7 806.0,48.9C805.2,48.3 804.8,47.6 804.9,46.6Z" fill="#ffdead" stroke="#5844aa" stroke-width="0.95"/>
<path d="M152.5,364.0C152.5,356.2 151.5,352.2 152.5,344.5C153.5,337.3 155.0,333.8 157.5,327.0C159.0,322.8 160.7,321.1 162.5,317.0C163.7,314.1 162.6,311.6 165.0,309.5C168.2,306.8 170.8,306.6 175.0,306.2C190.0,305.1 197.6,307.0 212.5,305.8C217.7,305.3 219.9,303.2 225.0,302.0C230.9,300.5 233.9,299.3 240.0,299.0C244.1,298.8 246.1,299.7 250.0,300.8C252.5,301.4 253.7,302.0 256.0,303.2C262.1,306.5 265.0,308.5 271.0,312.0C278.0,316.0 281.4,318.1 288.5,322.0C295.4,325.8 298.2,329.9 306.0,331.2C315.9,333.0 321.0,330.6 331.0,329.5C339.0,328.7 343.3,329.0 351.0,326.5C357.5,324.4 359.6,320.7 366.0,318.2C369.8,316.8 372.0,316.5 376.0,317.0C380.2,317.5 382.3,318.7 386.0,320.8C390.4,323.2 392.0,325.3 396.0,328.2C400.1,331.3 402.4,332.5 406.3,335.7C409.0,337.9 410.0,339.4 412.5,341.9C414.4,343.8 414.9,345.2 417.2,346.6C418.8,347.6 420.0,348.0 421.9,347.7C424.0,347.4 425.3,346.8 426.6,345.1C428.6,342.4 428.3,340.3 429.7,337.3C430.8,335.0 431.1,333.6 432.8,331.8C434.4,330.1 435.4,329.2 437.5,328.7C441.2,327.7 443.2,328.4 446.9,328.2C450.0,328.0 451.7,328.6 454.7,327.9C457.5,327.2 458.3,325.6 461.0,324.7C464.3,323.7 467.8,326.2 469.6,323.2C472.2,318.9 470.9,315.5 469.6,310.7C469.1,308.9 467.1,309.4 465.7,308.3C464.3,307.2 463.3,306.8 462.6,305.2C461.9,303.8 461.3,302.2 462.6,301.3C464.6,299.8 466.9,298.8 468.8,300.5C470.9,302.4 468.4,305.0 469.6,307.5C470.5,309.4 471.5,310.4 473.5,311.0C477.7,312.3 480.1,312.0 484.5,312.2C490.7,312.5 494.4,310.7 500.1,312.2C502.0,312.7 501.3,315.0 501.7,316.9C502.0,318.8 501.1,319.8 501.7,321.6C502.3,323.7 503.9,324.2 504.5,326.3C504.9,328.1 504.9,329.4 504.0,331.0C503.0,332.7 501.9,333.3 500.1,334.1C497.8,335.2 496.0,334.3 493.8,335.7C492.0,336.9 491.6,338.3 490.7,340.4C489.7,342.8 490.3,344.3 489.1,346.6C487.8,349.4 485.8,350.1 484.5,352.9C483.2,355.5 482.6,357.0 482.6,359.9C482.6,362.8 483.3,364.3 484.5,367.0C485.7,369.9 487.1,371.0 488.4,374.0C490.0,377.9 489.7,380.2 491.5,384.0C494.8,391.3 496.9,394.7 501.0,401.5C505.1,408.2 507.5,411.3 512.0,417.8C515.9,423.3 517.9,426.1 522.0,431.5C525.9,436.6 529.3,438.2 532.0,444.0C533.9,448.1 531.4,451.1 533.2,455.2C534.6,458.2 536.5,459.1 539.5,460.2C548.2,463.7 553.6,462.3 562.0,466.5C569.0,470.0 571.5,473.5 577.0,479.0C583.5,485.5 584.4,491.3 592.0,496.5C597.1,500.0 601.1,497.7 607.0,499.5C611.2,500.8 613.4,501.4 617.0,504.0C621.6,507.3 622.2,511.1 627.0,514.0C631.5,516.7 635.0,515.2 639.5,517.8C642.3,519.3 643.4,521.0 644.5,524.0C645.5,526.8 643.1,528.9 644.5,531.5C646.4,534.9 648.3,536.4 652.0,537.8C658.7,540.3 662.4,541.3 669.5,541.0C675.8,540.8 679.1,539.7 684.5,536.5C688.5,534.2 689.0,531.2 692.0,527.8C696.0,523.2 697.6,520.6 702.0,516.5C707.7,511.1 711.8,509.8 717.0,504.0C720.9,499.7 720.6,495.9 724.5,491.5C728.8,486.7 731.8,485.2 737.0,481.5C741.8,478.2 743.9,475.7 749.5,474.0C754.3,472.6 757.0,473.3 762.0,474.0C764.6,474.3 765.5,476.0 768.0,476.5C773.9,477.8 777.0,478.3 783.0,478.5C790.0,478.8 793.6,478.9 800.5,477.8C807.7,476.6 811.2,475.4 818.0,472.8C828.2,468.8 833.2,466.4 843.0,461.5C851.6,457.2 855.5,454.5 864.0,449.9C867.7,448.0 869.7,447.3 873.4,445.2C877.9,442.6 880.0,441.1 884.3,438.2C888.8,435.2 891.0,433.7 895.3,430.4C899.2,427.4 901.2,426.0 904.7,422.6C908.1,419.1 909.0,416.6 912.5,413.2C915.9,409.7 918.0,408.3 921.9,405.4C926.1,402.1 928.6,400.8 932.8,397.5C936.7,394.6 938.4,392.8 942.2,389.7C945.0,387.5 945.9,385.6 949.2,384.2C952.4,383.0 954.5,384.2 957.8,383.5C961.7,382.6 963.4,381.2 967.2,380.3C970.9,379.5 972.8,379.1 976.6,379.1C979.8,379.0 981.5,379.0 984.4,380.0C986.6,380.8 988.0,381.4 989.1,383.5C990.7,386.2 989.8,388.2 990.7,391.3C991.4,393.6 991.4,395.0 993.0,396.8C994.2,398.0 995.3,398.4 996.9,398.3C999.6,398.1 1000.8,397.2 1003.2,396.0C1005.8,394.7 1006.9,393.5 1009.5,392.1C1011.9,390.7 1012.9,389.1 1015.7,388.9C1017.8,388.8 1019.4,389.4 1020.4,391.3C1021.6,393.5 1019.9,395.1 1020.4,397.5C1020.8,399.6 1021.1,401.0 1022.7,402.2C1025.1,404.0 1029.1,401.7 1029.8,404.6C1032.1,415.0 1031.7,423.9 1029.8,433.5C1029.3,435.8 1025.9,432.2 1024.0,433.5C1021.6,435.1 1021.3,437.0 1020.4,439.8C1019.2,443.4 1019.9,445.5 1018.8,449.1C1017.4,454.3 1016.1,456.7 1014.1,461.7C1012.9,464.8 1012.7,466.5 1011.0,469.4C1008.9,473.1 1007.6,474.8 1004.8,478.0C1001.9,481.1 1000.0,482.1 996.9,485.0C993.7,488.1 992.2,489.6 989.1,492.8C985.9,496.2 984.1,497.7 981.3,501.4C978.4,505.3 977.5,507.5 975.0,511.6C972.5,516.0 971.3,518.2 968.8,522.6C966.3,526.9 965.2,529.2 962.5,533.5C960.2,537.4 959.2,539.4 956.3,542.9C954.1,545.4 953.1,547.0 950.0,548.4C947.7,549.4 946.2,549.1 943.8,548.4C940.9,547.5 940.1,545.8 937.5,544.5C935.1,543.3 933.9,542.3 931.3,542.1C928.7,542.0 927.3,542.5 925.0,543.7C921.6,545.4 920.3,546.9 917.2,549.1C913.4,551.9 911.6,553.4 907.8,556.2C904.7,558.4 903.2,559.6 900.0,561.7C896.9,563.6 895.6,565.3 892.2,566.4C887.3,567.8 884.6,567.2 879.6,567.9C875.9,568.5 873.7,567.9 870.3,569.5C864.0,572.3 862.1,576.0 855.9,578.6C846.2,582.7 841.0,583.8 830.8,586.2C818.8,588.9 812.4,588.1 800.6,591.2C795.2,592.6 793.7,597.0 788.1,597.5C779.9,598.1 776.0,595.3 768.0,593.7C766.0,593.3 765.1,592.4 763.0,592.4C751.3,592.9 744.9,593.3 732.9,594.9C722.7,596.3 718.0,599.3 707.8,600.0C694.7,600.8 688.2,599.9 675.2,598.7C671.5,598.4 668.3,599.3 666.4,596.2C663.7,592.0 666.5,588.6 665.6,583.7C665.0,580.0 666.2,575.8 662.6,574.9C654.9,572.8 650.3,575.0 642.5,577.4C635.0,579.6 632.6,584.3 625.0,586.2C616.2,588.4 611.3,586.1 602.4,587.4C594.2,588.6 590.5,591.8 582.3,592.4C574.2,593.1 570.3,590.9 562.2,590.7C554.2,590.4 549.6,594.0 542.1,591.2C537.9,589.6 540.4,584.2 537.1,581.1C533.9,578.2 531.3,577.8 527.1,577.4C521.0,576.8 517.8,577.0 512.0,578.6C508.5,579.6 506.9,581.0 504.5,583.7C502.2,586.2 500.7,587.8 500.7,591.2C500.7,595.0 502.4,596.7 504.5,600.0C507.0,603.9 509.1,605.2 512.0,608.8C516.1,613.7 517.8,616.5 522.0,621.3C525.8,625.5 527.7,627.7 532.1,631.3C536.8,635.3 539.4,637.0 544.6,640.1C549.4,643.0 552.5,643.3 557.2,646.4C562.6,649.9 564.8,652.4 569.7,656.4C575.8,661.4 578.5,664.3 584.8,669.0C590.6,673.3 593.3,676.0 599.9,679.0C605.5,681.6 608.7,682.5 614.9,682.8C618.1,683.0 619.4,681.2 622.4,680.3C626.4,679.0 628.3,677.3 632.5,677.3C637.6,677.3 640.0,678.9 645.0,680.3C650.1,681.7 652.4,683.6 657.6,684.1C663.6,684.6 666.6,683.4 672.6,682.8C680.7,681.9 684.6,680.8 692.7,680.3C700.7,679.8 704.8,680.9 712.8,680.3C717.9,679.9 720.8,680.1 725.4,677.8C728.2,676.3 728.0,673.7 730.4,671.5C732.1,669.9 733.1,668.8 735.4,668.5C741.4,667.7 744.4,668.7 750.5,669.0C757.5,669.4 761.0,670.0 768.0,670.2C774.0,670.5 777.1,669.8 783.1,670.2C791.1,670.8 795.0,672.6 803.1,672.8C809.2,672.9 812.3,672.5 818.2,671.0C828.5,668.4 833.5,666.7 843.3,662.7C851.6,659.3 855.6,657.1 863.4,652.7C867.1,650.6 869.7,649.9 872.2,646.4C873.3,644.7 871.2,643.4 871.4,641.4C871.7,638.8 871.4,636.8 873.4,635.1C878.7,630.9 882.5,630.6 888.5,627.6C896.5,623.6 900.4,621.3 908.6,617.5C916.5,613.8 920.8,612.7 928.6,608.8C933.9,606.1 937.2,605.5 941.2,601.2C944.1,598.1 943.6,595.2 945.0,591.2C946.6,586.2 944.9,582.2 948.7,578.6C954.3,573.5 958.8,572.9 966.3,571.6C972.3,570.6 975.3,573.8 981.4,573.1C986.7,572.5 989.5,571.6 993.9,568.6C999.8,564.6 1001.2,560.8 1006.5,556.0C1011.2,551.7 1014.4,549.9 1019.0,546.0C1019.6,545.5 1019.7,544.9 1020.4,544.5C1024.0,541.9 1029.3,533.7 1029.8,538.2C1036.3,600.0 1113.6,708.1 1040.0,730.0C824.7,793.9 602.7,736.1 384.0,730.0C376.7,729.8 387.8,717.9 384.0,711.7C380.6,706.1 374.9,708.1 369.0,705.4C361.8,702.1 358.4,700.1 351.4,696.6C343.3,692.6 339.3,690.6 331.3,686.6C324.3,683.0 321.1,680.5 313.7,677.8C307.5,675.5 303.0,677.6 297.4,674.0C294.8,672.4 297.3,669.3 296.2,666.5C294.8,663.1 294.2,661.0 291.1,659.0C287.7,656.7 284.7,658.4 281.1,656.4C278.9,655.2 278.4,653.7 277.3,651.4C275.8,648.1 277.3,645.4 274.8,642.6C272.3,639.8 269.2,641.0 266.0,638.9C261.6,635.9 259.6,634.0 256.0,630.1C252.1,625.9 250.1,623.7 247.2,618.8C244.5,614.1 242.8,611.6 242.2,606.2C241.7,601.1 245.8,598.7 244.7,593.7C243.2,586.4 241.0,582.8 235.9,577.4C232.1,573.3 227.5,574.9 223.4,571.1C220.1,568.0 219.9,565.3 218.4,561.1C216.3,555.2 217.7,551.4 214.6,546.0C209.1,536.3 204.0,533.1 197.5,524.0C194.1,519.3 193.0,516.5 190.0,511.5C187.0,506.5 184.2,504.6 182.5,499.0C181.1,494.2 183.7,491.4 182.5,486.5C181.6,483.0 179.8,481.7 177.5,479.0C173.8,474.7 171.2,473.3 167.5,469.0C165.2,466.3 162.0,465.1 162.5,461.5C163.2,456.6 168.6,456.3 170.0,451.5C171.7,445.8 170.5,442.5 170.0,436.5C169.5,430.4 169.2,427.3 167.5,421.5C165.2,413.3 163.2,409.4 160.0,401.5C157.2,394.4 154.0,391.5 152.5,384.0C150.9,376.2 152.5,372.0 152.5,364.0Z" fill="#ff8000" stroke="#5844aa" stroke-width="0.95"/>
<path d="M513.2,312.0C514.9,307.8 521.7,308.7 527.0,305.8C530.8,303.7 534.4,303.6 535.8,299.5C538.6,290.9 534.5,285.8 536.5,277.0C538.0,270.4 540.5,267.5 544.5,262.0C546.8,258.8 548.2,256.7 552.0,255.8C555.1,255.0 557.2,256.1 559.5,258.2C563.5,261.9 564.3,264.8 567.0,269.5C570.3,275.3 571.5,278.5 574.5,284.5C577.0,289.5 578.1,292.1 580.8,297.0C584.1,303.1 586.0,306.0 589.5,312.0C593.5,319.0 595.3,322.6 599.5,329.5C603.3,335.6 605.8,338.3 609.5,344.5C611.8,348.3 613.1,350.2 614.5,354.5C615.7,358.1 616.6,360.8 615.8,364.0C615.4,365.5 613.3,363.2 612.0,364.0C607.5,366.9 606.6,370.1 602.0,372.8C598.4,374.8 596.1,375.5 592.0,375.2C587.7,375.0 585.5,373.9 582.0,371.5C578.8,369.3 577.0,367.7 575.8,364.0C574.8,361.3 577.7,359.8 577.0,357.0C576.1,353.5 574.8,351.8 572.0,349.5C568.6,346.6 565.9,346.7 562.0,344.5C558.9,342.7 557.2,341.8 554.5,339.5C550.2,335.8 548.8,333.2 544.5,329.5C540.7,326.2 539.0,324.2 534.5,322.0C529.8,319.7 526.7,320.5 522.0,318.2C518.1,316.4 511.7,316.0 513.2,312.0Z" fill="#ff8000" stroke="#5844aa" stroke-width="0.95"/>
<path d="M464.9,336.5C464.9,335.1 465.4,334.2 466.5,333.3C467.8,332.4 468.8,332.2 470.4,332.2C472.0,332.2 473.0,332.4 474.3,333.3C475.4,334.2 476.0,335.1 475.9,336.5C475.7,338.0 474.8,338.7 473.5,339.6C472.2,340.5 471.2,340.7 469.6,340.7C468.3,340.7 467.5,340.5 466.5,339.6C465.4,338.7 464.9,337.9 464.9,336.5Z" fill="#ffa000" stroke="#5844aa" stroke-width="0.95"/>
<path d="M973.8,716.7C971.8,716.5 973.4,713.6 973.8,711.7C974.9,706.5 977.3,704.3 977.6,699.1C977.8,695.0 975.3,693.2 975.1,689.1C974.8,685.0 977.9,682.8 976.3,679.0C974.9,675.7 971.4,676.6 968.8,674.0C967.2,672.4 966.3,671.2 966.3,669.0C966.3,666.3 967.0,664.8 968.8,662.7C970.3,661.0 971.6,660.0 973.8,660.2C977.2,660.5 978.0,664.0 981.4,664.0C985.6,664.0 988.1,663.0 991.4,660.2C994.5,657.6 994.3,654.9 996.4,651.4C998.3,648.3 999.1,646.7 1001.4,643.9C1004.2,640.6 1005.8,639.2 1009.0,636.4C1010.3,635.2 1011.4,632.6 1012.7,633.9C1014.4,635.5 1014.6,638.4 1014.0,641.4C1013.0,645.8 1011.5,647.7 1009.0,651.4C1005.4,656.8 1002.7,658.8 998.9,664.0C996.2,667.8 993.2,669.3 992.6,674.0C992.1,678.3 994.1,680.4 996.4,684.1C998.7,687.6 1000.0,689.9 1003.9,691.6C1006.8,692.8 1008.7,691.5 1011.5,690.3C1014.8,688.9 1017.1,688.4 1019.0,685.3C1020.9,682.3 1019.3,680.0 1020.3,676.5C1021.4,672.4 1020.9,669.4 1024.0,666.5C1027.1,663.7 1033.3,659.9 1034.1,664.0C1037.4,680.7 1049.9,702.8 1034.1,716.7C1015.9,732.6 993.9,718.4 973.8,716.7Z" fill="#ffa000" stroke="#5844aa" stroke-width="0.95"/>
<path d="M768.0,520.2C773.0,515.4 777.1,515.2 783.0,511.5C788.1,508.2 790.1,505.7 795.5,502.8C802.2,499.1 805.8,497.7 813.0,495.2C818.8,493.2 821.9,492.3 828.0,491.5C834.0,490.8 837.1,492.4 843.0,491.5C847.2,490.9 849.3,489.8 853.0,487.8C857.4,485.3 858.6,482.7 863.0,480.2C868.7,477.1 871.9,476.3 878.0,474.0C883.9,471.8 887.1,471.3 893.0,469.0C895.9,467.9 897.3,467.2 900.0,465.6C903.2,463.6 904.9,462.6 907.8,460.1C911.2,457.2 912.2,455.1 915.6,452.3C919.1,449.4 921.6,449.0 925.0,446.0C927.3,443.9 927.8,442.3 929.7,439.8C931.6,437.3 931.9,435.4 934.4,433.5C936.5,431.9 938.0,431.2 940.6,431.2C942.5,431.2 943.7,431.9 944.5,433.5C945.8,435.7 945.7,437.3 945.3,439.8C944.8,443.1 942.6,444.2 942.2,447.6C942.0,449.5 942.2,451.1 943.8,452.3C946.4,454.2 948.9,452.7 951.6,454.6C953.6,456.1 954.4,457.6 954.7,460.1C955.1,463.3 954.2,465.3 953.1,467.9C952.9,468.5 951.7,467.2 951.6,467.8C950.5,472.0 950.9,475.4 950.0,480.3C949.3,484.8 948.9,487.0 947.7,491.3C946.4,495.8 945.9,498.1 943.8,502.2C942.4,504.8 941.6,506.3 939.1,507.7C935.7,509.7 933.4,509.3 929.7,510.4C925.9,511.5 923.9,511.6 920.3,513.2C915.7,515.2 913.7,516.9 909.4,519.4C905.0,521.9 902.7,523.0 898.4,525.7C893.9,528.6 891.7,530.2 887.5,533.5C884.2,536.1 883.2,538.3 879.6,540.5C876.8,542.4 875.0,542.6 871.8,543.7C868.5,544.8 866.6,544.6 863.4,546.0C855.1,549.6 851.5,552.3 843.3,556.0C838.4,558.3 836.1,560.1 830.8,561.1C823.8,562.3 820.2,560.8 813.2,561.6C807.1,562.3 804.3,564.4 798.1,564.8C792.1,565.2 788.9,565.3 783.1,563.6C778.5,562.2 776.7,560.3 773.0,557.3C770.6,555.2 769.2,554.0 768.0,551.0C766.3,546.9 766.4,544.5 766.0,540.0C765.6,535.2 765.5,532.8 766.0,528.0C766.3,524.8 765.7,522.5 768.0,520.2Z" fill="#ff6008" stroke="#5844aa" stroke-width="0.95"/>
<path d="M282.6,466.1C282.4,463.8 283.3,462.4 284.9,460.7C286.6,458.8 288.2,458.7 290.4,457.5C291.6,456.9 293.0,457.3 293.5,456.0C294.5,453.6 293.0,452.2 293.5,449.7C293.9,447.9 294.4,446.9 295.9,445.8C297.2,444.8 298.2,444.9 299.8,445.0C301.8,445.2 302.8,445.5 304.5,446.6C306.7,448.1 307.5,449.2 309.2,451.3C311.0,453.6 311.9,454.8 313.1,457.5C314.4,460.5 313.8,462.5 315.4,465.4C316.7,467.7 318.0,468.5 320.1,470.0C323.0,472.2 325.0,472.6 327.9,474.7C330.6,476.7 332.0,477.7 334.2,480.2C335.8,482.1 336.9,483.2 337.3,485.7C337.9,488.8 336.5,490.4 336.5,493.5C336.5,495.4 336.1,496.7 337.3,498.2C339.2,500.5 340.9,500.8 343.6,502.1C346.6,503.6 348.5,503.6 351.4,505.2C353.5,506.4 354.4,507.4 356.1,509.1C356.7,509.7 356.9,510.1 357.0,510.9C357.3,514.1 356.7,515.7 357.0,518.8C357.3,522.6 357.9,524.4 358.6,528.2C359.1,531.3 359.3,532.9 360.1,536.0C360.8,538.4 360.6,540.2 362.5,541.9C364.1,543.4 365.7,542.8 367.9,543.0C370.4,543.2 371.7,543.3 374.2,543.0C376.8,542.7 378.1,542.5 380.5,541.4C383.2,540.3 384.7,539.7 386.7,537.5C388.6,535.5 388.9,533.9 389.8,531.3C390.7,528.9 390.3,527.3 391.4,525.0C392.2,523.4 392.9,522.6 394.5,521.9C397.5,520.6 399.2,520.8 402.4,520.3C405.5,519.9 407.2,520.6 410.2,519.6C413.0,518.5 413.8,516.8 416.4,515.3C418.8,514.1 420.0,513.3 422.7,512.8C424.9,512.4 426.2,512.3 428.2,513.3C429.5,513.9 430.1,514.9 430.2,516.4C430.4,518.7 429.0,519.7 428.9,521.9C428.9,523.8 429.0,524.8 429.7,526.6C430.9,529.3 432.5,530.1 433.6,532.8C434.6,535.2 435.2,536.6 434.9,539.1C434.6,541.5 434.0,543.1 432.1,544.6C430.0,546.2 428.4,545.7 425.8,546.1C423.0,546.6 420.9,545.9 418.8,546.9C417.9,547.4 419.0,548.5 419.6,549.3C421.2,551.4 422.5,552.0 424.3,554.0C425.9,555.8 427.1,556.5 428.2,558.7C429.0,560.4 429.6,561.5 428.9,563.3C428.5,564.8 427.3,565.4 425.8,565.4C423.8,565.4 423.0,564.2 421.1,563.3C417.3,561.5 415.6,560.4 411.7,558.7C408.0,557.0 406.1,556.3 402.4,554.7C398.9,553.3 397.4,552.0 393.8,551.3C392.2,551.0 390.9,551.1 389.8,552.4C388.4,554.1 388.8,555.7 388.3,557.9C387.5,561.0 386.7,562.5 386.4,565.7C386.1,568.8 386.2,570.4 386.7,573.5C387.3,577.3 388.8,579.0 389.1,582.9C389.4,587.9 387.7,590.4 388.3,595.4C388.7,599.3 389.8,601.2 391.4,604.8C392.7,607.7 394.0,608.9 395.3,611.8C396.2,613.8 397.8,615.0 397.0,617.0C396.1,619.2 394.3,619.7 392.0,620.0C388.4,620.5 386.4,620.2 383.0,619.0C377.3,616.9 374.7,615.0 369.5,611.8C366.8,610.2 365.8,608.9 363.3,607.1C360.8,605.5 359.5,604.7 357.0,603.2C354.8,601.9 353.4,601.8 351.5,600.1C349.9,598.6 348.7,597.6 348.4,595.4C348.0,592.9 349.8,591.7 350.0,589.1C350.1,586.0 350.3,584.3 349.2,581.3C348.0,578.4 346.5,577.4 344.5,575.1C342.2,572.4 340.5,571.6 338.2,568.8C336.4,566.5 336.1,564.9 334.3,562.6C332.3,559.9 331.4,558.4 328.8,556.3C326.0,554.0 324.0,553.7 321.0,551.6C317.7,549.3 315.7,548.5 313.2,545.4C311.1,542.7 310.3,540.9 310.1,537.5C309.9,534.9 311.4,533.7 312.4,531.3C313.5,528.7 315.3,527.8 315.6,525.0C315.9,521.2 315.0,519.3 314.0,515.6C313.1,512.4 312.1,511.0 310.9,507.8C308.9,502.7 308.0,500.2 306.0,495.1C304.8,491.9 304.7,490.1 302.9,487.3C300.9,483.8 299.3,482.4 296.7,479.4C294.3,476.8 293.0,475.6 290.4,473.2C288.6,471.5 287.5,470.9 285.7,469.3C284.4,468.1 282.7,467.9 282.6,466.1Z" fill="#ff6008" stroke="#5844aa" stroke-width="0.95"/>
<path d="M456.0,479.0C456.7,475.7 457.3,473.8 459.8,471.5C462.6,468.8 464.8,468.5 468.5,467.0C472.4,465.4 474.4,463.4 478.5,464.0C481.0,464.4 481.3,466.7 482.2,469.0C483.8,472.8 483.0,475.3 484.8,479.0C486.6,482.9 489.5,483.7 491.0,487.8C491.7,489.7 491.3,491.4 489.8,492.8C486.9,495.1 484.7,495.5 481.0,496.0C477.0,496.5 474.8,496.4 471.0,495.2C467.1,494.1 465.4,492.8 462.2,490.2C459.8,488.2 458.8,486.8 457.2,484.0C456.2,482.2 455.6,481.0 456.0,479.0Z" fill="#ff6008" stroke="#5844aa" stroke-width="0.95"/>
<path d="M437.5,581.3C437.9,579.5 439.0,578.6 440.7,577.7C442.1,577.0 443.2,577.1 444.6,577.9C446.9,579.3 447.7,580.6 449.3,582.9C450.9,585.2 451.5,586.5 452.4,589.1C453.2,591.6 454.0,592.9 453.7,595.4C453.4,597.3 452.6,598.5 450.8,599.3C449.1,600.1 447.8,599.8 446.1,598.8C443.8,597.5 443.0,596.1 441.5,593.8C439.9,591.6 439.5,590.2 438.6,587.6C437.9,585.2 437.0,583.8 437.5,581.3Z" fill="#ff6008" stroke="#5844aa" stroke-width="0.95"/>
<path d="M371.1,517.5C371.1,516.7 371.8,516.3 372.6,516.1C373.7,515.8 374.4,516.0 375.5,516.4C376.3,516.8 377.0,517.1 377.0,518.0C377.0,518.9 376.3,519.3 375.5,519.6C374.4,519.9 373.7,519.7 372.6,519.2C371.8,518.8 371.1,518.4 371.1,517.5Z" fill="#ff6008" stroke="#5844aa" stroke-width="0.95"/>
<path d="M564.7,628.8C564.9,625.8 564.2,623.8 566.0,621.3C567.6,619.0 569.5,618.8 572.2,618.3C578.2,617.2 581.3,617.6 587.3,617.5C592.3,617.5 594.9,617.3 599.9,618.0C605.0,618.8 607.4,619.8 612.4,621.3C619.5,623.4 622.7,625.7 630.0,626.8C636.9,627.9 640.5,626.8 647.5,626.8C655.6,626.8 659.6,626.9 667.6,626.8C675.7,626.7 679.7,626.9 687.7,626.3C694.8,625.9 698.2,624.7 705.3,624.3C708.3,624.2 709.9,624.4 712.8,625.1C716.9,626.0 718.6,628.1 722.8,628.3C726.9,628.6 728.9,627.2 732.9,626.3C738.9,624.9 741.8,623.7 747.9,622.6C752.9,621.7 755.5,621.0 760.5,621.3C763.7,621.5 764.9,623.4 768.0,623.8C774.0,624.6 777.0,624.4 783.1,624.3C789.1,624.2 792.1,622.9 798.1,623.3C803.3,623.7 805.6,625.4 810.7,626.3C814.6,627.1 816.7,628.2 820.7,627.6C825.0,626.9 826.6,624.7 830.8,623.3C834.7,622.0 836.7,620.7 840.8,620.8C843.0,620.9 844.7,621.7 845.3,623.8C846.0,625.9 845.1,627.6 843.3,628.8C838.9,631.9 835.8,631.8 830.8,633.9C825.7,635.9 823.2,636.8 818.2,638.9C812.2,641.3 809.3,642.9 803.1,645.1C797.2,647.4 794.2,648.4 788.1,650.2C783.1,651.6 780.6,652.1 775.5,653.2C772.6,653.8 771.1,654.3 768.0,654.4C761.0,654.8 757.5,654.8 750.5,654.4C745.4,654.1 742.8,653.9 737.9,652.7C733.7,651.7 731.7,650.8 727.9,648.9C723.6,646.8 722.2,644.5 717.8,642.6C715.0,641.4 713.3,641.1 710.3,641.4C707.1,641.6 705.4,642.1 702.8,643.9C700.7,645.3 700.1,646.7 699.0,648.9C698.1,650.8 699.3,652.6 697.7,653.9C694.4,656.8 692.0,657.6 687.7,658.4C679.8,660.1 675.7,660.4 667.6,660.2C659.5,660.1 655.6,658.7 647.5,657.7C639.5,656.7 635.5,655.8 627.5,655.2C619.5,654.5 615.4,654.8 607.4,654.4C599.3,654.1 595.2,654.9 587.3,653.4C583.0,652.6 580.9,651.4 577.3,648.9C573.7,646.5 572.5,644.6 569.7,641.4C567.7,639.1 566.4,638.0 565.2,635.1C564.3,632.8 564.6,631.3 564.7,628.8Z" fill="#ffc000" stroke="#5844aa" stroke-width="0.95"/>
<path d="M883.5,600.7C883.3,598.7 884.3,597.4 886.0,596.2C888.1,594.6 889.6,594.3 892.2,594.2C895.3,594.1 897.0,594.3 899.8,595.7C901.8,596.7 903.2,597.7 903.5,600.0C903.8,602.2 902.9,603.7 901.0,605.0C898.5,606.7 896.6,606.7 893.5,606.7C890.6,606.7 889.0,606.5 886.5,605.0C884.7,603.9 883.6,602.8 883.5,600.7Z" fill="#ffc000" stroke="#5844aa" stroke-width="0.95"/>
<path d="M-6.0,510.0C-5.9,505.7 -1.8,515.1 0.0,519.0C1.7,522.8 1.6,525.0 2.5,529.0C4.1,535.8 4.9,539.2 6.3,546.0C7.4,552.0 7.6,555.1 8.8,561.1C10.1,568.1 10.2,571.8 12.6,578.6C14.8,585.0 17.3,587.5 20.1,593.7C21.8,597.6 23.9,599.4 23.8,603.7C23.7,608.6 19.6,610.2 19.6,615.0C19.6,620.8 21.7,623.5 23.8,628.8C25.9,634.0 27.9,636.2 30.1,641.4C31.6,644.8 33.7,646.5 33.1,650.2C32.5,654.3 30.3,655.8 27.6,659.0C25.0,661.9 22.0,661.8 20.1,665.2C17.8,669.2 18.2,671.9 17.6,676.5C16.7,682.5 18.1,685.8 16.3,691.6C15.0,696.1 13.1,698.0 10.0,701.6C6.5,705.7 3.8,706.6 0.0,710.4C-2.3,712.7 -4.9,719.9 -5.0,716.7C-7.0,649.9 -7.7,575.9 -6.0,510.0Z" fill="#ffc000" stroke="#5844aa" stroke-width="0.95"/>
<path d="M214.6,716.7C210.4,715.0 213.5,709.8 214.6,705.4C215.1,703.5 216.4,702.6 218.4,702.1C221.3,701.5 223.0,702.0 225.9,702.9C229.1,703.8 230.5,704.9 233.4,706.6C236.6,708.5 238.4,709.1 241.0,711.7C242.6,713.3 245.7,716.3 243.5,716.7C234.7,718.4 224.2,720.4 214.6,716.7Z" fill="#ffc000" stroke="#5844aa" stroke-width="0.95"/>
<path d="M605.8,222.0C605.4,218.5 605.3,216.6 606.5,213.2C607.4,210.6 608.3,209.1 610.8,207.8C612.5,206.8 614.2,207.0 615.8,208.2C618.1,210.0 617.9,212.0 619.5,214.5C621.4,217.5 622.5,219.0 624.5,222.0C626.5,225.0 627.6,226.5 629.5,229.5C631.1,232.0 633.2,232.8 633.2,235.8C633.2,238.2 631.6,239.4 629.5,240.8C626.9,242.5 625.2,243.2 622.0,243.2C618.8,243.2 616.9,242.8 614.5,240.8C611.2,238.0 610.1,235.9 608.2,232.0C606.5,228.3 606.1,226.1 605.8,222.0Z" fill="#ffa000" stroke="#5844aa" stroke-width="0.95"/>
<path d="M823.9,195.7C823.6,196.6 823.2,196.9 822.3,197.3C821.3,197.8 820.7,197.8 819.6,197.7C818.3,197.5 817.7,197.3 816.7,196.6C815.7,196.0 815.2,195.6 814.7,194.5C814.3,193.7 814.2,193.1 814.6,192.3C814.9,191.4 815.3,191.1 816.2,190.7C817.2,190.2 817.8,190.2 818.9,190.3C820.2,190.5 820.8,190.7 821.8,191.4C822.8,192.0 823.3,192.4 823.8,193.5C824.2,194.3 824.3,194.9 823.9,195.7Z" fill="#ffc000" stroke="#5844aa" stroke-width="0.95"/>
<path d="M940.2,239.5C940.2,240.9 940.1,241.7 939.6,243.0C939.1,244.1 938.8,244.7 937.8,245.2C937.1,245.6 936.4,245.6 935.7,245.2C934.7,244.7 934.4,244.1 933.9,243.0C933.4,241.7 933.2,240.9 933.2,239.5C933.2,238.1 933.4,237.3 933.9,236.0C934.4,234.9 934.7,234.3 935.7,233.8C936.4,233.4 937.1,233.4 937.8,233.8C938.8,234.3 939.1,234.9 939.6,236.0C940.1,237.3 940.2,238.1 940.2,239.5Z" fill="#ff8000" stroke="#5844aa" stroke-width="0.95"/>
<path d="M1006.8,365.5C1007.2,366.6 1007.2,367.4 1006.8,368.6C1006.4,369.8 1005.9,370.5 1004.9,371.2C1003.8,372.0 1003.0,372.3 1001.7,372.4C1000.3,372.5 999.6,372.3 998.5,371.6C997.4,371.0 996.9,370.4 996.5,369.2C996.0,368.1 996.0,367.3 996.4,366.1C996.9,364.9 997.4,364.2 998.4,363.5C999.5,362.7 1000.2,362.4 1001.6,362.3C1002.9,362.2 1003.7,362.4 1004.8,363.1C1005.9,363.7 1006.4,364.3 1006.8,365.5Z" fill="#ff8000" stroke="#5844aa" stroke-width="0.95"/>
<path d="M877.9,382.7C877.9,384.0 877.9,384.7 877.4,385.9C877.0,386.8 876.7,387.4 875.9,387.9C875.2,388.3 874.7,388.3 874.0,387.9C873.2,387.4 872.9,386.8 872.5,385.9C872.0,384.7 871.9,384.0 871.9,382.7C871.9,381.4 872.0,380.7 872.5,379.4C872.9,378.5 873.2,378.0 874.0,377.4C874.7,377.1 875.2,377.1 875.9,377.4C876.7,378.0 877.0,378.5 877.4,379.4C877.9,380.7 877.9,381.4 877.9,382.7Z" fill="#ffa000" stroke="#5844aa" stroke-width="0.95"/>
<path d="M883.8,407.4C883.1,408.6 882.7,409.1 881.6,409.9C880.7,410.5 880.1,410.8 879.1,410.7C878.2,410.7 877.7,410.4 877.2,409.7C876.6,408.8 876.6,408.1 876.7,407.1C876.8,405.7 877.0,405.1 877.7,403.9C878.4,402.8 878.8,402.2 879.9,401.5C880.8,400.8 881.4,400.5 882.4,400.6C883.3,400.6 883.8,401.0 884.3,401.7C884.9,402.6 884.9,403.2 884.8,404.3C884.7,405.6 884.4,406.3 883.8,407.4Z" fill="#ffa000" stroke="#5844aa" stroke-width="0.95"/>
<path d="M172.2,47.5C172.2,48.4 172.1,48.9 171.6,49.6C171.1,50.3 170.7,50.6 169.8,50.8C169.0,51.1 168.5,51.1 167.7,50.8C166.8,50.6 166.4,50.3 165.9,49.6C165.4,48.9 165.2,48.4 165.2,47.5C165.2,46.6 165.4,46.1 165.9,45.4C166.4,44.7 166.8,44.4 167.7,44.2C168.5,43.9 169.0,43.9 169.8,44.2C170.7,44.4 171.1,44.7 171.6,45.4C172.1,46.1 172.2,46.6 172.2,47.5Z" fill="#ffe000" stroke="#5844aa" stroke-width="0.95"/>
<path d="M1029.0,219.5C1029.0,220.5 1028.7,221.1 1028.0,221.9C1027.3,222.7 1026.7,223.0 1025.5,223.3C1024.3,223.6 1023.7,223.6 1022.5,223.3C1021.3,223.0 1020.7,222.7 1020.0,221.9C1019.3,221.1 1019.0,220.5 1019.0,219.5C1019.0,218.5 1019.3,217.9 1020.0,217.1C1020.7,216.3 1021.3,216.0 1022.5,215.7C1023.7,215.4 1024.3,215.4 1025.5,215.7C1026.7,216.0 1027.3,216.3 1028.0,217.1C1028.7,217.9 1029.0,218.5 1029.0,219.5Z" fill="#ffc000" stroke="#5844aa" stroke-width="0.95"/>
<path d="M13.3,20.3L13.8,26.5L13.3,32.8L9.4,35.9L3.1,37.5L0.0,37.5" fill="none" stroke="#000" stroke-width="1.2" stroke-linejoin="round"/>
<path d="M3.1,37.5L6.3,39.8L10.2,42.9L10.2,50.0L11.7,53.9L18.8,52.3L21.9,50.8L23.5,54.7L26.6,57.8L31.3,58.6L30.5,62.5L28.2,65.6L21.9,67.2L15.6,65.6L12.5,68.7L14.1,73.4L20.3,71.1L23.5,73.4L31.3,72.7L46.9,71.1L59.4,70.0L68.0,69.5L62.6,73.4L54.7,75.8L52.4,79.7L54.0,82.8L46.9,82.5L40.7,82.8L39.1,85.2L46.9,85.2L56.3,84.7L54.7,89.1L50.0,90.6L53.2,92.2L51.6,94.1L56.3,93.0L59.4,89.1L65.7,85.2L64.1,81.3L68.8,80.5L73.5,78.9L76.6,81.3L81.3,81.6L83.7,85.2L89.1,87.2L93.8,89.1L95.4,91.4L98.5,85.9L103.2,86.7L107.9,90.6L104.8,93.8L107.9,96.9L108.7,103.1L112.6,105.5L118.9,107.8L123.6,111.0L129.8,113.3L132.9,115.7L137.6,114.1L140.8,116.4L148.6,113.3L156.4,111.0L160.0,110.5L175.0,108.8L177.5,102.5L182.5,92.5L183.8,82.5L188.8,78.0L200.0,80.0L212.5,80.5L225.0,83.8L237.5,88.8L250.0,93.0L256.0,94.5L266.0,102.5L276.0,111.2L286.0,117.5L296.0,121.2L306.0,117.5L321.0,116.2L336.0,115.0L342.2,113.8L348.5,110.0L354.8,109.5L358.5,110.0L362.2,102.5L371.0,95.0L381.0,87.5L391.0,82.0L398.5,81.2L406.0,86.2L416.0,90.0L427.2,95.0L436.0,92.0L442.2,90.0L441.0,86.2L446.0,83.8L453.5,80.0L461.0,76.2L467.2,78.8L471.0,85.0L471.0,91.2L461.0,97.5L451.0,106.2L453.5,112.5L458.5,120.0L456.0,127.5L448.5,135.0L447.2,145.0L453.5,150.0L457.2,160.0L456.0,172.5L456.0,182.0L459.8,193.2L453.5,200.8L446.0,209.5L442.2,219.5L441.0,228.2L434.8,230.8L433.5,239.5L428.5,249.5L422.2,259.5L416.0,270.8L413.5,277.0L412.2,283.2L407.2,285.8L404.8,299.5L402.2,312.0L397.2,327.0L393.3,337.8L387.0,347.2L379.2,355.0L369.8,362.8L360.4,367.5L349.5,371.4L340.1,373.0L333.8,372.2L327.6,369.4L321.3,367.5L313.5,366.8L307.3,369.1L301.0,371.9L293.2,375.4L286.9,376.1L282.2,373.8L277.5,369.1L271.3,364.4L265.0,362.1L258.8,358.9L254.1,353.5L250.9,351.6L246.3,352.7L240.0,355.0L232.3,355.8L224.5,353.5L216.6,349.6L208.8,348.5L201.0,349.6L191.6,352.7L182.2,355.0L174.4,355.0L172.1,354.2L169.7,360.5L165.0,364.7L160.3,366.0L156.4,362.8L152.5,364.4L146.3,369.1L140.0,373.8L135.0,377.8L125.0,383.5L112.5,387.8L102.5,387.8L92.5,381.5L82.5,377.8L72.5,374.5L57.5,375.2L46.2,372.8L43.8,367.0L35.0,369.0L25.0,367.8L18.8,364.0L18.8,360.0L10.0,359.5L0.0,357.0L-5.0,356.5" fill="none" stroke="#000" stroke-width="1.2" stroke-linejoin="round"/>
<path d="M37.5,126.6L36.0,115.7L40.7,110.2L48.5,106.3L56.3,102.4L62.6,100.0L63.3,104.7L59.4,111.0L56.3,117.2L53.2,120.4L45.4,123.5L42.2,128.0L39.1,132.9Z" fill="none" stroke="#000" stroke-width="1.2" stroke-linejoin="round"/>
<path d="M1.6,81.3L6.3,78.9L12.5,77.3L17.2,78.1L14.1,81.3L7.8,83.6L3.1,83.6Z" fill="none" stroke="#000" stroke-width="1.2" stroke-linejoin="round"/>
<path d="M18.8,86.7L23.5,84.4L31.3,82.8L38.3,83.6L36.0,86.7L32.8,89.1L25.0,89.1L20.3,88.8Z" fill="none" stroke="#000" stroke-width="1.2" stroke-linejoin="round"/>
<path d="M6.3,93.0L8.6,91.4L10.9,93.0L9.4,94.5L7.0,94.5Z" fill="none" stroke="#000" stroke-width="1.2" stroke-linejoin="round"/>
<path d="M14.9,100.0L18.8,99.2L22.7,102.4L20.3,103.9L16.4,102.8Z" fill="none" stroke="#000" stroke-width="1.2" stroke-linejoin="round"/>
<path d="M26.6,111.3L28.9,110.2L31.3,111.3L29.7,112.5L27.4,112.5Z" fill="none" stroke="#000" stroke-width="1.2" stroke-linejoin="round"/>
<path d="M39.1,92.2L42.2,90.6L45.0,92.2L44.6,95.3L41.4,96.1Z" fill="none" stroke="#000" stroke-width="1.2" stroke-linejoin="round"/>
<path d="M269.8,170.2L271.6,169.4L276.3,172.2L280.2,170.2L284.2,165.5L290.4,164.7L298.2,166.0L302.1,164.0L303.7,159.3L303.7,155.0L309.2,155.4L321.7,156.9L334.2,156.6L343.6,154.6L353.0,151.9L362.4,148.8L371.7,145.2L381.1,141.3L388.6,139.4L387.4,142.1L379.6,146.8L371.7,150.7L365.5,153.8L360.8,157.7L356.1,158.5L353.8,161.6L353.8,165.5L356.1,169.4L360.8,173.3L363.1,176.5L357.7,175.7L351.4,176.5L343.6,173.3L340.5,175.7L339.7,180.4L337.3,183.5L329.5,186.6L320.1,189.8L312.3,190.5L308.4,192.1L307.6,196.0L304.5,196.0L302.9,192.1L298.2,190.5L290.4,192.1L282.6,189.8L277.1,186.6L274.0,181.2L271.6,175.7Z" fill="none" stroke="#000" stroke-width="1.2" stroke-linejoin="round"/>
<path d="M181.4,358.2L186.9,356.6L193.2,355.0L202.6,352.7L208.8,351.9L211.2,353.8L207.3,355.8L201.0,357.4L191.6,358.9L185.4,359.4Z" fill="none" stroke="#000" stroke-width="1" stroke-linejoin="round"/>
<path d="M247.9,353.5L247.9,358.2L244.8,363.6L249.5,366.8L255.7,368.3L258.9,373.8L263.6,375.7L269.0,373.0L271.1,367.5L267.5,365.2L261.2,362.1L255.7,358.2L252.6,353.5Z" fill="none" stroke="#000" stroke-width="1" stroke-linejoin="round"/>
<path d="M284.9,430.2L281.0,433.3L279.5,435.6L276.3,443.5L273.5,450.5L275.6,454.4L281.0,458.3L285.7,463.0L288.1,468.5L288.8,474.7L288.1,482.6L292.0,488.8L297.4,493.5L299.8,501.3L303.8,504.7L310.1,512.5L314.8,520.3L321.0,526.6L328.8,531.3L335.1,536.8L337.4,542.2L332.0,541.4L332.8,545.4L335.9,548.5L333.5,550.8L336.7,556.3L341.4,562.6L344.5,567.3L350.0,570.4L350.7,576.6L353.9,582.9L357.8,589.1L357.8,595.4L356.2,600.1L355.4,601.7L360.1,604.8L363.3,609.5L367.7,618.8L374.0,631.3L381.5,642.6L389.0,653.9L396.6,666.5L404.1,679.0L409.1,691.6L414.1,701.6L417.9,714.2" fill="none" stroke="#000" stroke-width="1.2" stroke-linejoin="round"/>
<path d="M284.9,430.2L286.5,435.6L289.6,441.9L292.8,449.7L293.5,457.5L298.2,463.0L301.4,468.5L307.6,473.2L313.9,478.7L316.2,482.6L316.2,488.8L318.6,495.1L318.6,501.3L319.5,503.1L325.7,509.4L333.5,515.6L339.8,523.5L346.0,530.5L353.9,536.0L360.1,540.7L363.3,543.0L370.3,543.5L371.1,546.1L372.6,540.7L377.3,536.8L380.5,532.1L381.2,523.5L379.7,517.2L382.8,509.4L386.7,501.6L385.8,504.5L389.7,496.6L390.5,488.8L392.9,481.0L395.2,471.6L399.1,462.2L403.0,456.0" fill="none" stroke="#000" stroke-width="1.2" stroke-linejoin="round"/>
<path d="M408.5,455.2L406.1,463.8L404.6,473.2L401.5,482.6L399.9,491.9L399.1,501.3L398.3,509.1L395.2,517.0L392.1,523.2L388.9,527.9L390.6,530.5L388.3,528.2L389.8,525.0L392.2,525.8L397.7,527.4L405.5,528.2L413.3,527.4L419.6,529.7L421.1,532.8L425.8,537.5L428.9,542.2L433.6,548.5L436.0,554.7L438.3,559.4L443.0,565.7L449.3,570.4L451.6,575.1L454.0,579.8L459.3,583.7L466.8,593.7L469.3,600.0L474.0,606.3L477.9,614.1L482.6,621.9L487.3,628.9L491.9,631.3L496.6,633.6L497.4,637.5L495.1,641.4L496.6,645.4L499.8,648.5L502.1,646.9L505.2,650.0L509.1,654.0L511.5,659.4L514.6,662.6L516.2,667.3L520.1,671.9L524.0,676.6L525.6,681.3L526.4,687.6L524.0,692.3L520.1,694.6L522.4,697.8L526.4,701.7L529.5,706.4L532.6,711.4L534.2,715.7" fill="none" stroke="#000" stroke-width="1.2" stroke-linejoin="round"/>
<path d="M490.4,642.2L488.5,646.9L490.7,650.4L486.0,653.5L487.6,656.0L494.3,657.6L500.1,660.2L503.2,664.4L506.3,667.3L509.5,664.9L507.6,661.8L503.7,659.1L498.2,656.3L492.7,654.0L491.6,650.0L490.1,646.1Z" fill="none" stroke="#000" stroke-width="1.3" stroke-linejoin="round"/>
<path d="M383.6,533.6L386.7,532.1L389.8,533.6L390.6,536.3L387.5,537.5L384.4,536.3Z" fill="none" stroke="#000" stroke-width="1.2" stroke-linejoin="round"/>
<path d="M354.2,557.1L357.0,556.3L360.4,558.7L360.9,561.0L357.8,560.2L354.7,559.1Z" fill="none" stroke="#000" stroke-width="1.2" stroke-linejoin="round"/>
<path d="M369.8,364.0L376.0,379.0L383.5,396.5L386.0,409.0L392.2,421.5L398.5,439.0L402.2,451.5L403.5,455.2" fill="none" stroke="#000" stroke-width="1"/>
<path d="M458.2,127.3L462.9,129.6L468.4,131.9L470.0,127.3L474.7,124.9L479.3,122.6L479.3,117.9L480.1,111.6L486.4,111.6L494.2,110.8L495.0,108.5L491.1,105.4L488.7,100.7L489.5,94.4L491.1,86.6L493.7,81.1L500.5,83.5L506.7,84.2L512.2,85.8L513.8,90.5L520.8,89.7L528.6,90.5L536.4,89.4L544.3,85.8L553.6,83.5L563.0,80.3L572.4,77.2L564.5,78.8L574.5,76.2L584.5,78.8L594.5,86.2L607.0,87.5L622.0,88.8L637.0,87.0L652.0,83.8L667.0,78.8L682.0,73.8L697.0,68.8L709.5,66.2L724.5,67.5L737.0,68.0L749.5,67.0L762.0,64.5L768.0,63.8L775.5,60.0L780.5,57.5L785.5,61.2L786.8,66.2L793.0,65.5L800.5,60.0L805.5,53.8L818.0,53.8L830.5,54.5L843.0,58.8L853.0,57.5L860.5,60.0L864.0,60.1L868.7,57.0L873.4,55.9L879.6,57.8L882.8,61.7L879.6,64.8L880.4,68.7L884.3,73.4L887.5,71.1L892.2,68.0L898.4,64.0L904.7,63.3L909.4,63.7" fill="none" stroke="#000" stroke-width="1"/>
<path d="M786.8,66.2L778.0,75.0L768.0,82.5L752.0,92.5L737.0,96.2L732.0,100.0L734.5,112.5L732.0,125.0L734.5,140.0L732.0,155.0L729.5,170.0L728.2,182.0L725.8,189.5L714.5,204.5L704.5,207.0L687.0,214.5L662.0,227.0L637.0,239.5L612.0,253.2L604.5,257.0L587.0,265.8L562.0,279.5L537.0,293.2L512.0,305.8L512.6,306.0L501.7,312.2" fill="none" stroke="#000" stroke-width="1"/>
<path d="M604.5,257.0L608.2,272.0L612.0,287.0L615.8,302.0L614.0,304.5L615.8,310.8L627.0,310.0L629.0,314.5L622.0,322.0L637.0,324.5L662.0,328.2L684.5,332.0L697.0,337.0L712.0,344.5L737.0,357.0L749.5,364.0L768.0,372.8L793.0,391.5L818.0,411.5L843.0,430.2L868.0,446.5L893.0,464.0L905.5,471.0L918.0,472.0L943.0,474.5L968.0,476.5L993.0,477.8L1018.0,479.0L1028.0,479.5" fill="none" stroke="#000" stroke-width="1"/>
<path d="M993.0,477.8L1000.5,476.0L1010.5,464.0L1018.0,452.8L1024.0,444.0L1028.0,439.0" fill="none" stroke="#000" stroke-width="1"/>
<path d="M622.0,322.0L612.0,328.2L587.0,334.5L562.0,342.0L537.0,348.2L512.0,354.0L510.3,354.1L525.1,366.2L537.0,382.8L562.0,404.0L545.8,412.8L537.0,430.2L524.5,432.8L512.0,435.2L498.5,437.8L486.0,451.5L473.5,464.0L461.0,471.5L446.0,469.0L426.0,466.0L408.5,463.5" fill="none" stroke="#000" stroke-width="1"/>
<path d="M881.2,20.3L880.4,26.5L887.5,28.1L892.2,32.0L897.6,33.6L900.8,37.5L899.2,41.4L900.0,48.4L904.7,51.5L910.1,55.4L910.9,59.4L909.4,64.0L910.9,68.0L914.8,71.1L915.6,76.6L913.3,81.3L917.2,83.6L921.9,85.9L924.2,90.6L921.9,95.3L925.0,99.2L931.3,100.8L934.4,106.3L935.9,112.5L939.1,118.8L939.1,121.9L943.8,122.7L950.8,125.0L954.7,126.6L957.8,130.5L961.8,132.8L970.4,131.3L976.6,130.5L981.3,133.6L987.6,132.8L989.1,134.4L984.4,137.5L976.6,139.1L972.7,140.7L971.1,145.4L971.9,150.0L975.0,154.7L979.7,159.4L980.5,164.7L976.6,169.4L968.8,170.9L965.7,175.6L961.0,179.6L956.3,183.5L953.9,188.2L957.1,192.8L957.5,197.2L953.1,196.8L948.5,195.7L946.9,200.7L943.8,202.2L945.3,206.9L950.0,210.0L949.7,216.3L946.9,221.0L943.8,224.1L941.4,228.0L945.3,228.8L950.0,235.1L954.7,241.3L959.4,246.0L964.1,245.2L967.2,247.6L965.7,251.5L970.4,252.3L973.5,257.0L976.6,261.7L980.5,264.8L981.3,269.5L978.2,271.8L976.6,272.1L979.7,273.6L977.4,277.5L981.3,279.1L989.1,279.1L996.9,281.4L1004.8,286.1L1012.6,291.6L1020.4,297.9L1026.7,301.8" fill="none" stroke="#000" stroke-width="1"/>
<path d="M924.2,20.3L925.0,26.5L931.3,29.6L933.6,34.3L934.4,40.6L936.7,48.4L937.5,56.2L940.6,60.1L945.3,64.8L949.2,64.8L953.1,62.5L953.9,57.8L957.8,55.4L964.1,56.2L968.0,52.3L964.1,49.2L960.2,43.7L956.3,39.8L962.5,38.2L961.0,35.1L954.7,32.8L949.2,33.6L945.3,32.8L942.2,28.9L943.0,24.9L946.1,20.3" fill="none" stroke="#000" stroke-width="1.2" stroke-linejoin="round"/>
<path d="M575.9,40.9L578.2,42.9L580.5,37.5L585.2,38.2L586.8,39.8L582.9,41.4L582.1,45.3L587.6,44.5L593.8,42.2L600.1,39.0L597.0,32.0L600.1,36.7L604.0,37.5L607.9,35.9L608.7,31.2L613.4,26.5L614.2,29.6L611.8,33.6L612.6,36.7L607.9,39.0L601.7,39.8L595.4,42.9L593.8,46.8L590.7,50.0L586.8,48.4L581.3,47.2L578.2,43.7Z" fill="none" stroke="#000" stroke-width="1.3" stroke-linejoin="round"/>
<path d="M574.0,107.7L568.5,111.6L565.4,116.3L566.1,120.9L571.6,124.1L577.9,127.2L582.6,129.6L584.9,125.6L587.3,128.0L591.9,128.8L591.2,131.1L585.7,132.7L581.0,133.5L578.7,131.1L573.2,128.0L566.9,124.1L563.8,119.4L564.6,113.9L568.5,109.2L572.4,106.1Z" fill="none" stroke="#000" stroke-width="1.3" stroke-linejoin="round"/>
<path d="M460.2,193.5L467.3,193.5L475.1,193.1L476.6,190.3L479.8,193.5L483.7,194.2L481.3,197.4L477.4,198.9L481.3,201.3L486.0,203.6L489.1,208.3L491.5,214.6L487.6,220.0L484.5,223.2L479.8,224.7L475.9,229.4L474.3,231.8L479.0,232.6L478.2,234.1L473.5,233.3L467.3,233.3L462.6,235.7L458.7,239.6L457.1,243.5L461.8,246.6L460.2,249.0L457.1,250.5L455.5,254.5L450.0,258.4L443.8,261.5L439.9,263.8L437.5,263.1L436.0,267.0L434.4,271.7L428.2,273.2L423.5,271.7L414.9,271.7" fill="none" stroke="#000" stroke-width="1"/>
<path d="M414.9,270.0L415.6,271.6L425.0,273.1L431.3,271.6L436.0,270.0" fill="none" stroke="#000" stroke-width="1"/>
<path d="M439.1,293.5L445.4,290.3L450.0,289.6L454.7,291.1L459.4,295.0L462.6,299.7L468.8,301.3L473.5,305.2L479.8,308.3L487.6,310.7L500.1,311.9" fill="none" stroke="#000" stroke-width="1"/>
<path d="M436.3,286.4L437.5,283.3L440.4,282.2L442.5,284.1L442.5,288.0L440.7,291.1L438.3,290.6Z" fill="none" stroke="#000" stroke-width="1.3" stroke-linejoin="round"/>
<path d="M439.1,291.1L438.3,295.0L439.1,301.3L438.3,309.1L437.5,316.9L436.8,324.7L436.8,332.6L437.5,340.4" fill="none" stroke="#000" stroke-width="1"/>
<path d="M437.5,340.4L439.1,341.9L438.8,348.2L437.8,356.0L436.9,363.1L433.6,362.3L431.3,359.1L430.2,351.3L432.1,345.1L435.2,341.2Z" fill="none" stroke="#000" stroke-width="1.3" stroke-linejoin="round"/>
<path d="M428.9,367.8L433.6,366.7L436.8,370.1L435.7,374.0L431.3,374.8L428.5,371.7Z" fill="none" stroke="#000" stroke-width="1.3" stroke-linejoin="round"/>
<path d="M431.3,374.8L429.7,379.5L426.6,384.0L428.5,384.0L421.0,399.0L417.2,414.0L413.5,426.5L408.5,444.0L406.0,455.2" fill="none" stroke="#000" stroke-width="1"/>
<path d="M821.8,208.2L826.8,209.5L830.5,217.0L836.8,222.0L843.0,227.0L845.5,232.0L843.0,240.8L835.5,240.8L829.2,237.0L824.2,229.5L821.8,219.5Z" fill="none" stroke="#000" stroke-width="1.2" stroke-linejoin="round"/>
<path d="M834.2,257.0L839.2,254.5L843.0,258.2L849.2,260.8L848.0,265.8L841.8,267.0L836.8,262.0Z" fill="none" stroke="#000" stroke-width="1.2" stroke-linejoin="round"/>
<path d="M845.5,272.0L848.0,277.0L854.2,284.5L864.2,292.0L864.2,297.0L858.0,300.8L850.5,298.2L843.0,295.8L840.5,287.0L841.8,280.8Z" fill="none" stroke="#000" stroke-width="1.2" stroke-linejoin="round"/>
<path d="M1007.9,385.0L1012.6,382.7L1017.3,383.5L1022.0,385.8L1024.0,388.9L1020.4,389.7L1022.0,392.1L1018.1,393.6L1014.1,392.1L1010.2,392.8L1008.7,390.5L1011.8,388.2L1008.7,386.9Z" fill="none" stroke="#000" stroke-width="1.2" stroke-linejoin="round"/>
<path d="M272.2,409.0L276.0,408.5L279.8,412.8L282.2,417.8L285.5,419.5L284.0,421.0L279.8,419.0L274.8,415.2L271.5,411.5Z" fill="none" stroke="#000" stroke-width="1.2" stroke-linejoin="round"/>
<path d="M22.5,46.2L28.8,43.8L37.5,46.2L50.0,47.5L60.0,44.5L66.2,42.5L72.5,45.0L80.0,46.2L87.5,52.5L95.0,60.0L102.5,66.2L110.0,73.8L117.5,75.0L125.0,71.2L135.0,72.5L140.0,75.0" fill="none" stroke="#181000" stroke-opacity="0.92" stroke-width="1.15" stroke-dasharray="1.2 3.6"/>
<path d="M92.5,25.0L93.8,32.5L88.8,41.2L80.0,46.2" fill="none" stroke="#181000" stroke-opacity="0.92" stroke-width="1.15" stroke-dasharray="1.2 3.6"/>
<path d="M136.2,22.5L137.5,32.5L132.5,42.5L130.0,52.5L125.0,62.5L122.5,71.2" fill="none" stroke="#181000" stroke-opacity="0.92" stroke-width="1.15" stroke-dasharray="1.2 3.6"/>
<path d="M140.0,75.0L136.2,82.5L130.0,91.2L122.5,100.0L117.5,105.0" fill="none" stroke="#181000" stroke-opacity="0.92" stroke-width="1.15" stroke-dasharray="1.2 3.6"/>
<path d="M140.0,75.0L145.0,67.5L152.5,61.2L165.0,58.0L177.5,60.0L190.0,60.0L200.0,53.8L212.5,52.5L222.5,48.8L222.5,40.0L230.0,37.5" fill="none" stroke="#181000" stroke-opacity="0.92" stroke-width="1.15" stroke-dasharray="1.2 3.6"/>
<path d="M162.5,22.5L163.8,31.2L175.0,31.2L185.0,37.5L192.5,45.0L200.0,53.8" fill="none" stroke="#181000" stroke-opacity="0.92" stroke-width="1.15" stroke-dasharray="1.2 3.6"/>
<path d="M222.5,48.8L232.5,53.8L245.0,56.2L256.0,61.2" fill="none" stroke="#181000" stroke-opacity="0.92" stroke-width="1.15" stroke-dasharray="1.2 3.6"/>
<path d="M13.8,23.0L22.5,25.0L30.0,22.5L45.0,21.5" fill="none" stroke="#181000" stroke-opacity="0.92" stroke-width="1.15" stroke-dasharray="1.2 3.6"/>
<path d="M256.0,61.2L263.5,67.5L271.0,75.0L278.5,82.5L281.0,90.0L288.5,100.0L288.5,110.0L291.0,117.5" fill="none" stroke="#181000" stroke-opacity="0.92" stroke-width="1.15" stroke-dasharray="1.2 3.6"/>
<path d="M281.0,90.0L288.5,82.5L293.5,70.0L306.0,57.5L313.5,47.5L331.0,45.0L341.0,38.8L348.5,42.5L353.5,50.0L363.5,58.8L376.0,60.0L381.0,56.2" fill="none" stroke="#181000" stroke-opacity="0.92" stroke-width="1.15" stroke-dasharray="1.2 3.6"/>
<path d="M288.5,72.5L306.0,82.5L318.5,95.0" fill="none" stroke="#181000" stroke-opacity="0.92" stroke-width="1.15" stroke-dasharray="1.2 3.6"/>
<path d="M306.0,82.5L323.5,73.8L338.5,70.0L356.0,65.0L368.5,60.0" fill="none" stroke="#181000" stroke-opacity="0.92" stroke-width="1.15" stroke-dasharray="1.2 3.6"/>
<path d="M368.5,21.0L378.5,30.0L381.0,40.0L378.5,47.5L386.0,53.8" fill="none" stroke="#181000" stroke-opacity="0.92" stroke-width="1.15" stroke-dasharray="1.2 3.6"/>
<path d="M401.0,35.0L411.0,33.8L421.0,30.0L436.0,31.2L442.2,25.0" fill="none" stroke="#181000" stroke-opacity="0.92" stroke-width="1.15" stroke-dasharray="1.2 3.6"/>
<path d="M401.0,35.0L396.0,45.0L401.0,53.8L406.0,65.0L413.5,75.0L412.2,85.0" fill="none" stroke="#181000" stroke-opacity="0.92" stroke-width="1.15" stroke-dasharray="1.2 3.6"/>
<path d="M458.5,52.5L466.0,37.5L476.0,32.5L481.0,21.0" fill="none" stroke="#181000" stroke-opacity="0.92" stroke-width="1.15" stroke-dasharray="1.2 3.6"/>
<path d="M458.5,52.5L463.5,62.5L476.0,70.0L486.0,75.0L496.0,72.5L506.0,70.0L512.0,65.0" fill="none" stroke="#181000" stroke-opacity="0.92" stroke-width="1.15" stroke-dasharray="1.2 3.6"/>
<path d="M473.5,50.0L481.0,53.8L493.5,52.5L506.0,55.0" fill="none" stroke="#181000" stroke-opacity="0.92" stroke-width="1.15" stroke-dasharray="1.2 3.6"/>
<path d="M496.0,107.5L506.0,112.5L506.0,120.0L496.0,125.0L481.0,145.0L488.5,152.5L506.0,152.5" fill="none" stroke="#181000" stroke-opacity="0.92" stroke-width="1.15" stroke-dasharray="1.2 3.6"/>
<path d="M544.5,21.0L539.5,27.5L534.5,35.0L535.8,42.5L544.5,46.2L557.0,47.5L572.0,50.0" fill="none" stroke="#181000" stroke-opacity="0.92" stroke-width="1.15" stroke-dasharray="1.2 3.6"/>
<path d="M512.0,58.8L527.0,53.8L542.0,51.2L557.0,50.0L555.8,62.5L562.0,72.5L564.5,77.5" fill="none" stroke="#181000" stroke-opacity="0.92" stroke-width="1.15" stroke-dasharray="1.2 3.6"/>
<path d="M594.5,87.5L597.0,95.0L592.0,105.0L584.5,108.8L577.0,108.8" fill="none" stroke="#181000" stroke-opacity="0.92" stroke-width="1.15" stroke-dasharray="1.2 3.6"/>
<path d="M637.0,21.0L644.5,25.0L654.5,27.5L659.5,37.5L664.5,50.0L667.0,60.0L674.5,70.0L682.0,72.5" fill="none" stroke="#181000" stroke-opacity="0.92" stroke-width="1.15" stroke-dasharray="1.2 3.6"/>
<path d="M667.0,55.0L674.5,47.5L687.0,41.2L702.0,35.0L717.0,32.5L724.5,25.0L727.0,21.0" fill="none" stroke="#181000" stroke-opacity="0.92" stroke-width="1.15" stroke-dasharray="1.2 3.6"/>
<path d="M717.0,32.5L729.5,37.5L742.0,45.0L752.0,41.2L762.0,37.5L768.0,35.0" fill="none" stroke="#181000" stroke-opacity="0.92" stroke-width="1.15" stroke-dasharray="1.2 3.6"/>
<path d="M652.0,100.0L649.5,112.5L648.2,125.0L644.5,135.0L637.0,145.0L629.5,155.0L624.5,162.5L617.0,170.0" fill="none" stroke="#181000" stroke-opacity="0.92" stroke-width="1.15" stroke-dasharray="1.2 3.6"/>
<path d="M657.0,102.5L667.0,112.5L677.0,120.0L687.0,127.5L697.0,137.5L712.0,143.8L727.0,145.0" fill="none" stroke="#181000" stroke-opacity="0.92" stroke-width="1.15" stroke-dasharray="1.2 3.6"/>
<path d="M512.0,147.5L524.5,150.0L537.0,150.0L549.5,152.5L562.0,155.0L572.0,157.5" fill="none" stroke="#181000" stroke-opacity="0.92" stroke-width="1.15" stroke-dasharray="1.2 3.6"/>
<path d="M512.0,172.5L522.0,168.8L534.5,166.2L547.0,168.0L557.0,172.5L564.5,182.0" fill="none" stroke="#181000" stroke-opacity="0.92" stroke-width="1.15" stroke-dasharray="1.2 3.6"/>
<path d="M768.0,37.5L780.5,36.2L793.0,37.5L805.5,40.0L815.5,38.8L820.5,32.5L830.5,31.2L843.0,32.5L855.5,33.8L868.0,30.0L878.0,25.0" fill="none" stroke="#181000" stroke-opacity="0.92" stroke-width="1.15" stroke-dasharray="1.2 3.6"/>
<path d="M818.0,21.0L819.2,30.0L820.5,32.5" fill="none" stroke="#181000" stroke-opacity="0.92" stroke-width="1.15" stroke-dasharray="1.2 3.6"/>
<path d="M838.0,37.5L840.5,50.0L839.2,57.5" fill="none" stroke="#181000" stroke-opacity="0.92" stroke-width="1.15" stroke-dasharray="1.2 3.6"/>
<path d="M800.5,75.0L810.5,86.2L825.5,85.0L843.0,80.0L853.0,81.2L855.5,72.5L850.5,67.5" fill="none" stroke="#181000" stroke-opacity="0.92" stroke-width="1.15" stroke-dasharray="1.2 3.6"/>
<path d="M853.0,81.2L868.0,92.5L880.5,87.5L885.5,82.5" fill="none" stroke="#181000" stroke-opacity="0.92" stroke-width="1.15" stroke-dasharray="1.2 3.6"/>
<path d="M838.0,117.5L848.0,110.0L855.5,100.0L868.0,92.5" fill="none" stroke="#181000" stroke-opacity="0.92" stroke-width="1.15" stroke-dasharray="1.2 3.6"/>
<path d="M898.0,100.0L908.0,98.8L918.0,100.0L915.5,110.0L903.0,112.5L904.2,125.0L913.0,130.0L923.0,128.8" fill="none" stroke="#181000" stroke-opacity="0.92" stroke-width="1.15" stroke-dasharray="1.2 3.6"/>
<path d="M943.0,72.5L958.0,71.2L973.0,72.5L985.5,77.5L1000.5,72.5L1013.0,75.0L1018.0,82.5" fill="none" stroke="#181000" stroke-opacity="0.92" stroke-width="1.15" stroke-dasharray="1.2 3.6"/>
<path d="M838.0,125.0L836.8,135.0L833.0,142.5L818.0,147.5L813.0,155.0L818.0,165.0L833.0,160.0L843.0,162.5L848.0,172.5L853.0,182.0" fill="none" stroke="#181000" stroke-opacity="0.92" stroke-width="1.15" stroke-dasharray="1.2 3.6"/>
<path d="M908.0,130.0L910.5,140.0L908.0,150.0L903.0,162.5L904.2,172.5L893.0,182.0" fill="none" stroke="#181000" stroke-opacity="0.92" stroke-width="1.15" stroke-dasharray="1.2 3.6"/>
<path d="M1018.0,100.0L1003.0,100.0L988.0,102.5L973.0,107.5L960.5,112.5L950.5,120.0" fill="none" stroke="#181000" stroke-opacity="0.92" stroke-width="1.15" stroke-dasharray="1.2 3.6"/>
<path d="M940.5,138.8L953.0,137.5L968.0,138.8L983.0,137.5L998.0,137.0L1010.5,137.5L1018.0,145.0" fill="none" stroke="#181000" stroke-opacity="0.92" stroke-width="1.15" stroke-dasharray="1.2 3.6"/>
<path d="M913.0,160.0L923.0,152.5L935.5,150.0L940.5,140.0" fill="none" stroke="#181000" stroke-opacity="0.92" stroke-width="1.15" stroke-dasharray="1.2 3.6"/>
<path d="M133.8,379.0L133.8,394.0L135.0,411.5L145.0,419.0L157.5,426.5L167.5,434.0" fill="none" stroke="#181000" stroke-opacity="0.92" stroke-width="1.15" stroke-dasharray="1.2 3.6"/>
<path d="M150.0,371.5L152.5,389.0L150.0,399.0L140.0,404.0L135.0,411.5" fill="none" stroke="#181000" stroke-opacity="0.92" stroke-width="1.15" stroke-dasharray="1.2 3.6"/>
<path d="M170.0,435.2L160.0,439.0L145.0,449.0L130.0,456.5L117.5,466.5L107.5,476.5L97.5,486.5L87.5,492.8L70.0,496.5L55.0,499.0L42.5,502.8L35.0,511.5L27.5,526.5L20.0,541.5" fill="none" stroke="#181000" stroke-opacity="0.92" stroke-width="1.15" stroke-dasharray="1.2 3.6"/>
<path d="M170.0,435.2L180.0,426.5L195.0,414.0L197.5,410.2L193.8,389.0L190.0,379.0L180.0,369.0" fill="none" stroke="#181000" stroke-opacity="0.92" stroke-width="1.15" stroke-dasharray="1.2 3.6"/>
<path d="M160.0,464.0L172.5,456.5L185.0,449.0L200.0,445.2L206.2,450.2L208.8,459.0L205.0,469.0L195.0,476.5L180.0,480.2L172.5,481.5L160.0,477.8L145.0,476.5" fill="none" stroke="#181000" stroke-opacity="0.92" stroke-width="1.15" stroke-dasharray="1.2 3.6"/>
<path d="M145.0,476.5L142.5,489.0L137.5,504.0L132.5,516.5L120.0,524.0L105.0,531.5L87.5,539.0" fill="none" stroke="#181000" stroke-opacity="0.92" stroke-width="1.15" stroke-dasharray="1.2 3.6"/>
<path d="M145.0,494.0L160.0,494.0L180.0,494.0L200.0,494.0" fill="none" stroke="#181000" stroke-opacity="0.92" stroke-width="1.15" stroke-dasharray="1.2 3.6"/>
<path d="M197.5,410.2L207.5,416.5L217.5,420.2L230.0,419.0L247.5,415.2" fill="none" stroke="#181000" stroke-opacity="0.92" stroke-width="1.15" stroke-dasharray="1.2 3.6"/>
<path d="M217.5,375.2L218.8,389.0L220.0,401.5L215.0,410.2" fill="none" stroke="#181000" stroke-opacity="0.92" stroke-width="1.15" stroke-dasharray="1.2 3.6"/>
<path d="M195.0,379.0L205.0,376.5L215.0,374.0" fill="none" stroke="#181000" stroke-opacity="0.92" stroke-width="1.15" stroke-dasharray="1.2 3.6"/>
<path d="M220.0,424.0L220.0,441.5L252.5,441.5L251.2,461.5L250.0,481.5" fill="none" stroke="#181000" stroke-opacity="0.92" stroke-width="1.15" stroke-dasharray="1.2 3.6"/>
<path d="M207.5,461.5L215.0,464.0L217.5,469.0L212.5,481.5L202.5,494.0L200.0,511.5" fill="none" stroke="#181000" stroke-opacity="0.92" stroke-width="1.15" stroke-dasharray="1.2 3.6"/>
<path d="M256.0,417.8L276.0,417.8L296.0,416.5" fill="none" stroke="#181000" stroke-opacity="0.92" stroke-width="1.15" stroke-dasharray="1.2 3.6"/>
<path d="M286.0,379.0L287.2,389.0L293.5,406.5L297.2,417.8L298.5,434.0" fill="none" stroke="#181000" stroke-opacity="0.92" stroke-width="1.15" stroke-dasharray="1.2 3.6"/>
<path d="M298.5,434.0L318.5,435.2L336.0,437.8L356.0,444.0L373.5,450.2L391.0,454.0L402.2,456.0" fill="none" stroke="#181000" stroke-opacity="0.92" stroke-width="1.15" stroke-dasharray="1.2 3.6"/>
<path d="M256.0,482.8L271.0,479.0L288.5,475.2" fill="none" stroke="#181000" stroke-opacity="0.92" stroke-width="1.15" stroke-dasharray="1.2 3.6"/>
<path d="M402.2,486.5L421.0,487.8L441.0,483.5L456.0,481.5L471.0,489.0L491.0,500.2L508.5,499.0" fill="none" stroke="#181000" stroke-opacity="0.92" stroke-width="1.15" stroke-dasharray="1.2 3.6"/>
<path d="M256.0,396.5L261.0,391.5L266.0,381.5" fill="none" stroke="#181000" stroke-opacity="0.92" stroke-width="1.15" stroke-dasharray="1.2 3.6"/>
<path d="M7.5,549.8L100.4,549.8L188.3,549.8" fill="none" stroke="#1a1400" stroke-opacity="0.85" stroke-width="1" stroke-dasharray="3 3.5"/>
<path d="M188.3,549.8L190.8,561.1L200.8,571.1L213.4,578.6L220.9,591.2L230.9,601.2L241.0,611.3L251.0,621.3" fill="none" stroke="#181000" stroke-opacity="0.92" stroke-width="1.15" stroke-dasharray="1.2 3.6"/>
<path d="M203.3,546.0L202.1,558.6L213.4,566.1L225.9,576.1L233.4,588.7L243.5,598.7L253.5,608.8" fill="none" stroke="#181000" stroke-opacity="0.92" stroke-width="1.15" stroke-dasharray="1.2 3.6"/>
<path d="M256.0,616.3L263.5,623.8L271.1,627.6L283.6,621.3L296.2,622.6L302.4,631.3L302.4,641.4L296.2,651.4L288.6,656.4L281.1,656.4" fill="none" stroke="#181000" stroke-opacity="0.92" stroke-width="1.15" stroke-dasharray="1.2 3.6"/>
<path d="M261.0,628.8L276.1,635.1L288.6,630.1L293.7,635.1L291.1,646.4L281.1,651.4" fill="none" stroke="#181000" stroke-opacity="0.92" stroke-width="1.15" stroke-dasharray="1.2 3.6"/>
<path d="M279.8,659.0L281.1,669.0L288.6,676.5L296.2,684.1L301.2,696.6L302.4,709.2" fill="none" stroke="#181000" stroke-opacity="0.92" stroke-width="1.15" stroke-dasharray="1.2 3.6"/>
<path d="M287.4,661.5L291.1,671.5L301.2,681.5L306.2,691.6L311.2,706.6" fill="none" stroke="#181000" stroke-opacity="0.92" stroke-width="1.15" stroke-dasharray="1.2 3.6"/>
<path d="M557.0,364.0L567.0,379.0L577.0,385.2L597.0,382.8L617.0,381.0L637.0,382.8L652.0,385.2L667.0,390.2L687.0,393.5L707.0,393.5L719.5,396.5L732.0,401.5L744.5,405.2L752.0,414.0L762.0,424.0L759.5,429.0L747.0,436.5L732.0,445.2L717.0,454.0L704.5,462.8L703.2,474.0L699.5,486.5L687.0,491.5L672.0,496.5L657.0,504.0L642.0,509.0L627.0,515.2L614.5,522.8" fill="none" stroke="#181000" stroke-opacity="0.92" stroke-width="1.15" stroke-dasharray="1.2 3.6"/>
<path d="M512.0,500.2L522.0,502.8L532.0,502.8L539.5,494.0L549.5,489.0L552.0,499.0L552.0,509.0L559.5,516.5L574.5,521.0L589.5,521.5L602.0,524.0L614.5,522.8L629.5,527.8L642.0,534.0L652.0,541.5" fill="none" stroke="#181000" stroke-opacity="0.92" stroke-width="1.15" stroke-dasharray="1.2 3.6"/>
<path d="M692.0,490.2L707.0,494.0L722.0,490.2L737.0,486.5L752.0,491.5L768.0,490.2" fill="none" stroke="#181000" stroke-opacity="0.92" stroke-width="1.15" stroke-dasharray="1.2 3.6"/>
<path d="M825.5,364.0L821.8,376.5L815.5,389.0L810.5,399.0" fill="none" stroke="#181000" stroke-opacity="0.92" stroke-width="1.15" stroke-dasharray="1.2 3.6"/>
<path d="M905.5,364.0L903.0,376.5L893.0,389.0L883.0,399.0L873.0,416.5L868.0,426.5L860.5,439.0" fill="none" stroke="#181000" stroke-opacity="0.92" stroke-width="1.15" stroke-dasharray="1.2 3.6"/>
<path d="M963.0,364.0L960.5,376.5L958.0,384.0" fill="none" stroke="#181000" stroke-opacity="0.92" stroke-width="1.15" stroke-dasharray="1.2 3.6"/>
<path d="M958.0,387.8L973.0,389.0L988.0,391.5L998.0,401.5L1005.5,414.0L1010.5,426.5L1008.0,444.0L1003.0,464.0L1000.5,476.5" fill="none" stroke="#181000" stroke-opacity="0.92" stroke-width="1.15" stroke-dasharray="1.2 3.6"/>
<path d="M998.0,401.5L1010.5,402.8L1020.5,401.5" fill="none" stroke="#181000" stroke-opacity="0.92" stroke-width="1.15" stroke-dasharray="1.2 3.6"/>
<path d="M768.0,490.2L780.5,492.8L790.5,496.5L798.0,504.0L808.0,504.0L818.0,502.8L830.5,511.5L843.0,514.0L855.5,511.5L863.0,519.0L868.0,531.5L873.0,541.5" fill="none" stroke="#181000" stroke-opacity="0.92" stroke-width="1.15" stroke-dasharray="1.2 3.6"/>
<path d="M993.0,479.0L978.0,481.5L963.0,486.5L953.0,494.0L943.0,509.0L935.5,526.5L925.5,539.0L918.0,546.0" fill="none" stroke="#1a1400" stroke-opacity="0.85" stroke-width="1" stroke-dasharray="3 3.5"/>
<path d="M512.0,568.6L522.0,564.8L537.1,568.6L549.7,563.6L554.7,571.1L562.2,579.9L572.2,581.1L579.8,593.7L587.3,591.2L599.9,588.7L612.4,596.2L627.5,600.0L642.5,598.7L656.3,598.7" fill="none" stroke="#181000" stroke-opacity="0.92" stroke-width="1.15" stroke-dasharray="1.2 3.6"/>
<path d="M656.3,546.0L660.1,561.1L670.1,571.1L673.9,577.4" fill="none" stroke="#181000" stroke-opacity="0.92" stroke-width="1.15" stroke-dasharray="1.2 3.6"/>
<path d="M656.3,598.7L657.6,608.8L655.1,613.8L661.3,618.8L662.6,631.3L661.3,646.4L662.6,659.0L663.9,667.7L670.1,670.2L685.2,666.5L697.7,665.2L705.3,657.7L715.3,655.9L730.4,656.4L745.4,659.0L750.5,669.0L749.2,681.5L758.0,684.1L765.5,691.6L768.0,701.6" fill="none" stroke="#181000" stroke-opacity="0.92" stroke-width="1.15" stroke-dasharray="1.2 3.6"/>
<path d="M745.4,659.0L755.5,653.9L763.0,648.9L763.0,638.9L768.0,636.4" fill="none" stroke="#181000" stroke-opacity="0.92" stroke-width="1.15" stroke-dasharray="1.2 3.6"/>
<path d="M512.0,598.7L522.0,602.5L524.6,608.8L519.5,616.3L527.1,626.3L539.6,633.9L549.7,641.4L554.7,651.4L562.2,661.5L563.5,676.5L562.2,696.6L552.2,697.9L539.6,702.9L532.1,705.4" fill="none" stroke="#181000" stroke-opacity="0.92" stroke-width="1.15" stroke-dasharray="1.2 3.6"/>
<path d="M768.0,623.8L775.5,621.3L788.1,613.8L800.6,603.7L818.2,593.7L830.8,583.7L843.3,574.9L863.4,567.3L873.4,571.1L886.0,578.6L896.0,578.6L903.5,571.1" fill="none" stroke="#181000" stroke-opacity="0.92" stroke-width="1.15" stroke-dasharray="1.2 3.6"/>
<path d="M898.5,546.0L903.5,556.0L903.5,571.1L913.6,581.1L903.5,591.2L893.5,600.0L891.0,608.8L893.5,621.3L903.5,633.9L907.3,646.4L906.1,656.4L888.5,656.9L870.9,656.4L860.9,666.5L848.3,674.0L833.3,677.8L824.5,689.1L825.7,696.6L820.7,701.6L803.1,701.6L783.1,697.9L773.0,702.9L770.5,711.7" fill="none" stroke="#1a1400" stroke-opacity="0.85" stroke-width="1" stroke-dasharray="3 3.5"/>
<path d="M918.6,551.0L931.2,568.6L948.7,578.6L966.3,591.2L983.9,593.7L1001.4,602.5L1019.0,605.0" fill="none" stroke="#181000" stroke-opacity="0.92" stroke-width="1.15" stroke-dasharray="1.2 3.6"/>
<path d="M451.0,259.5L456.0,267.0L453.5,277.0L458.5,282.0" fill="none" stroke="#181000" stroke-opacity="0.92" stroke-width="1.15" stroke-dasharray="1.2 3.6"/>
<path d="M473.5,262.0L486.0,264.5L501.0,265.8L512.0,267.0" fill="none" stroke="#181000" stroke-opacity="0.92" stroke-width="1.15" stroke-dasharray="1.2 3.6"/>
<path d="M481.0,277.0L478.5,287.0L481.0,297.0L488.5,304.5" fill="none" stroke="#181000" stroke-opacity="0.92" stroke-width="1.15" stroke-dasharray="1.2 3.6"/>
<path d="M408.5,292.0L416.0,294.5L418.5,302.0L431.0,304.5L434.8,317.0L431.0,327.0L416.0,332.0L406.0,334.5" fill="none" stroke="#181000" stroke-opacity="0.92" stroke-width="1.15" stroke-dasharray="1.2 3.6"/>
<path d="M396.0,332.0L406.0,344.5L416.0,342.0" fill="none" stroke="#181000" stroke-opacity="0.92" stroke-width="1.15" stroke-dasharray="1.2 3.6"/>
<path d="M491.0,214.5L506.0,213.2L512.0,217.0" fill="none" stroke="#181000" stroke-opacity="0.92" stroke-width="1.15" stroke-dasharray="1.2 3.6"/>
<path d="M512.0,222.0L522.0,227.0L532.0,235.8L542.0,244.5L554.5,254.5L567.0,262.0L577.0,268.2" fill="none" stroke="#181000" stroke-opacity="0.92" stroke-width="1.15" stroke-dasharray="1.2 3.6"/>
<path d="M512.0,274.5L522.0,279.5L532.0,287.0" fill="none" stroke="#181000" stroke-opacity="0.92" stroke-width="1.15" stroke-dasharray="1.2 3.6"/>
<path d="M642.0,182.0L652.0,194.5L662.0,207.0L672.0,218.2" fill="none" stroke="#181000" stroke-opacity="0.92" stroke-width="1.15" stroke-dasharray="1.2 3.6"/>
<path d="M557.0,347.0L558.2,364.0" fill="none" stroke="#181000" stroke-opacity="0.92" stroke-width="1.15" stroke-dasharray="1.2 3.6"/>
<path d="M793.0,182.0L795.5,192.0L808.0,202.0L818.0,199.5" fill="none" stroke="#181000" stroke-opacity="0.92" stroke-width="1.15" stroke-dasharray="1.2 3.6"/>
<path d="M818.0,214.5L828.0,232.0L843.0,239.5L858.0,242.0L873.0,244.5" fill="none" stroke="#181000" stroke-opacity="0.92" stroke-width="1.15" stroke-dasharray="1.2 3.6"/>
<path d="M898.0,199.5L893.0,212.0L888.0,224.5L890.5,239.5L885.5,254.5L895.5,264.5L898.0,277.0L893.0,289.5" fill="none" stroke="#181000" stroke-opacity="0.92" stroke-width="1.15" stroke-dasharray="1.2 3.6"/>
<path d="M860.5,267.0L873.0,268.2L885.5,267.0L898.0,268.2L913.0,269.5L928.0,269.5L943.0,270.8" fill="none" stroke="#181000" stroke-opacity="0.92" stroke-width="1.15" stroke-dasharray="1.2 3.6"/>
<path d="M830.5,297.0L843.0,292.0L855.5,289.5L868.0,284.5L878.0,282.0" fill="none" stroke="#181000" stroke-opacity="0.92" stroke-width="1.15" stroke-dasharray="1.2 3.6"/>
<path d="M868.0,282.0L880.5,289.5L885.5,302.0L885.5,312.0L873.0,314.5L858.0,318.2L843.0,327.0L833.0,337.0L830.5,352.0L829.2,364.0" fill="none" stroke="#181000" stroke-opacity="0.92" stroke-width="1.15" stroke-dasharray="1.2 3.6"/>
<path d="M908.0,252.0L918.0,257.0L928.0,252.0L943.0,254.5L958.0,257.0L973.0,254.5" fill="none" stroke="#181000" stroke-opacity="0.92" stroke-width="1.15" stroke-dasharray="1.2 3.6"/>
<path d="M965.5,224.5L980.5,227.0L998.0,232.0L1013.0,234.5" fill="none" stroke="#181000" stroke-opacity="0.92" stroke-width="1.15" stroke-dasharray="1.2 3.6"/>
<path d="M943.0,309.5L953.0,322.0L958.0,332.0L960.5,344.5L963.0,357.0" fill="none" stroke="#181000" stroke-opacity="0.92" stroke-width="1.15" stroke-dasharray="1.2 3.6"/>
<path d="M963.0,329.5L975.5,327.0L988.0,329.5L1003.0,327.0L1018.0,332.0" fill="none" stroke="#181000" stroke-opacity="0.92" stroke-width="1.15" stroke-dasharray="1.2 3.6"/>
<path d="M893.0,347.0L908.0,344.5L923.0,342.0L938.0,343.2L948.0,339.5" fill="none" stroke="#181000" stroke-opacity="0.92" stroke-width="1.15" stroke-dasharray="1.2 3.6"/>
<path d="M293.2,376.1L299.4,374.6L305.7,373.0L309.6,371.4L308.8,375.4L306.5,376.1" fill="none" stroke="#000" stroke-width="1.2" stroke-linejoin="round"/>
<path d="M313.5,369.1L314.3,375.4L318.2,376.1L322.9,373.8L329.9,371.0" fill="none" stroke="#000" stroke-width="1.2" stroke-linejoin="round"/>
<path d="M221.8,23.4L225.7,22.6L230.4,24.9L235.1,29.6L239.0,33.6L241.0,36.7L238.2,38.2L233.5,39.0L231.2,41.4L228.8,40.6L228.0,35.9L225.7,31.2L222.6,26.5Z" fill="none" stroke="#000" stroke-width="1.3" stroke-linejoin="round"/>
<path d="M193.6,21.8L197.5,21.0L203.0,21.8L201.4,24.9L199.1,28.4L196.8,27.3L194.7,24.2Z" fill="none" stroke="#000" stroke-width="1.3" stroke-linejoin="round"/>
<rect x="0" y="21.2" width="1024" height="690.6" fill="none" stroke="#333" stroke-width="0.6" stroke-dasharray="1.5 4"/>
</svg></div>
<div class="t" id="bl">ECMWF MODEL RUN: 20191202T00Z</div>
<div class="t" id="br">ArabiaWeather Inc.</div>
</body></html>
